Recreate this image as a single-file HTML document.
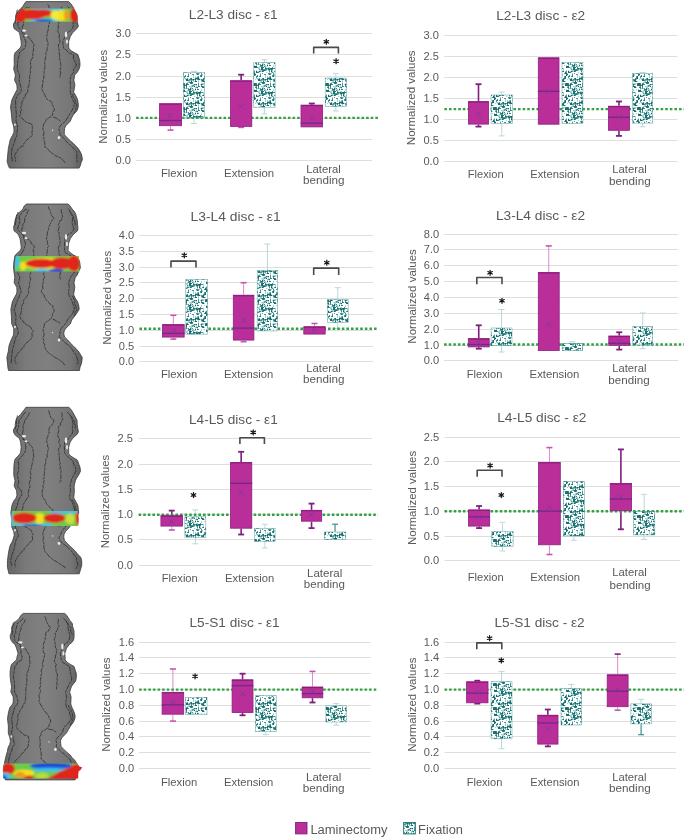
<!DOCTYPE html><html><head><meta charset="utf-8"><style>html,body{margin:0;padding:0;background:#fff;}svg{display:block;font-family:"Liberation Sans",sans-serif;filter:blur(0.45px);}</style></head><body>
<svg width="685" height="839" viewBox="0 0 685 839">
<defs>
<pattern id="fixp" width="24" height="24" patternUnits="userSpaceOnUse"><rect width="24" height="24" fill="#fff"/><path d="M13 0h1v1h-1zM16 0h1v1h-1zM17 0h1v1h-1zM13 1h1v1h-1zM14 1h1v1h-1zM5 2h1v1h-1zM14 2h1v1h-1zM15 2h1v1h-1zM9 3h1v1h-1zM14 3h1v1h-1zM9 4h1v1h-1zM13 4h1v1h-1zM17 4h1v1h-1zM20 4h1v1h-1zM6 5h1v1h-1zM13 5h1v1h-1zM3 6h1v1h-1zM4 6h1v1h-1zM5 6h1v1h-1zM6 6h1v1h-1zM12 6h1v1h-1zM13 6h1v1h-1zM23 6h1v1h-1zM1 7h1v1h-1zM3 7h1v1h-1zM6 7h1v1h-1zM7 7h1v1h-1zM11 7h1v1h-1zM18 7h1v1h-1zM19 7h1v1h-1zM23 7h1v1h-1zM10 8h1v1h-1zM11 8h1v1h-1zM18 8h1v1h-1zM19 8h1v1h-1zM3 9h1v1h-1zM4 9h1v1h-1zM11 9h1v1h-1zM12 9h1v1h-1zM23 9h1v1h-1zM0 10h1v1h-1zM22 10h1v1h-1zM23 10h1v1h-1zM14 11h1v1h-1zM15 11h1v1h-1zM23 11h1v1h-1zM2 12h1v1h-1zM4 12h1v1h-1zM9 12h1v1h-1zM13 12h1v1h-1zM14 12h1v1h-1zM15 12h1v1h-1zM16 12h1v1h-1zM18 12h1v1h-1zM19 12h1v1h-1zM13 13h1v1h-1zM14 13h1v1h-1zM15 13h1v1h-1zM16 13h1v1h-1zM18 13h1v1h-1zM2 14h1v1h-1zM6 14h1v1h-1zM9 14h1v1h-1zM10 14h1v1h-1zM18 14h1v1h-1zM5 15h1v1h-1zM10 15h1v1h-1zM11 15h1v1h-1zM16 15h1v1h-1zM22 16h1v1h-1zM3 17h1v1h-1zM5 17h1v1h-1zM21 17h1v1h-1zM22 17h1v1h-1zM14 18h1v1h-1zM15 18h1v1h-1zM16 18h1v1h-1zM14 19h1v1h-1zM15 19h1v1h-1zM16 19h1v1h-1zM21 19h1v1h-1zM22 19h1v1h-1zM23 19h1v1h-1zM1 20h1v1h-1zM2 20h1v1h-1zM4 20h1v1h-1zM6 20h1v1h-1zM7 20h1v1h-1zM8 20h1v1h-1zM21 20h1v1h-1zM22 20h1v1h-1zM4 21h1v1h-1zM5 21h1v1h-1zM7 21h1v1h-1zM21 21h1v1h-1zM22 21h1v1h-1zM0 22h1v1h-1zM7 22h1v1h-1zM23 22h1v1h-1zM7 23h1v1h-1zM11 23h1v1h-1zM16 23h1v1h-1zM19 23h1v1h-1zM22 23h1v1h-1z" fill="#1E6E6E"/><path d="M8 0h1v1h-1zM14 0h1v1h-1zM18 0h1v1h-1zM4 1h1v1h-1zM5 1h1v1h-1zM6 1h1v1h-1zM9 1h1v1h-1zM12 1h1v1h-1zM22 1h1v1h-1zM0 2h1v1h-1zM1 2h1v1h-1zM6 2h1v1h-1zM9 2h1v1h-1zM20 2h1v1h-1zM8 3h1v1h-1zM17 3h1v1h-1zM20 3h1v1h-1zM6 4h1v1h-1zM8 4h1v1h-1zM12 4h1v1h-1zM16 4h1v1h-1zM19 4h1v1h-1zM5 5h1v1h-1zM12 5h1v1h-1zM16 5h1v1h-1zM11 6h1v1h-1zM19 6h1v1h-1zM22 6h1v1h-1zM0 7h1v1h-1zM2 7h1v1h-1zM5 7h1v1h-1zM9 7h1v1h-1zM10 7h1v1h-1zM21 7h1v1h-1zM22 7h1v1h-1zM1 8h1v1h-1zM3 8h1v1h-1zM9 8h1v1h-1zM20 8h1v1h-1zM21 8h1v1h-1zM23 8h1v1h-1zM10 9h1v1h-1zM21 10h1v1h-1zM0 11h1v1h-1zM6 11h1v1h-1zM13 11h1v1h-1zM16 11h1v1h-1zM18 11h1v1h-1zM19 11h1v1h-1zM22 11h1v1h-1zM3 12h1v1h-1zM6 12h1v1h-1zM10 12h1v1h-1zM20 12h1v1h-1zM0 13h1v1h-1zM1 13h1v1h-1zM6 13h1v1h-1zM9 13h1v1h-1zM17 13h1v1h-1zM0 14h1v1h-1zM7 14h1v1h-1zM11 14h1v1h-1zM16 14h1v1h-1zM4 15h1v1h-1zM15 15h1v1h-1zM18 15h1v1h-1zM0 16h1v1h-1zM16 16h1v1h-1zM18 16h1v1h-1zM20 16h1v1h-1zM6 17h1v1h-1zM20 17h1v1h-1zM0 18h1v1h-1zM20 18h1v1h-1zM21 18h1v1h-1zM22 18h1v1h-1zM1 19h1v1h-1zM8 19h1v1h-1zM17 19h1v1h-1zM3 20h1v1h-1zM5 20h1v1h-1zM9 20h1v1h-1zM10 20h1v1h-1zM0 21h1v1h-1zM1 21h1v1h-1zM2 21h1v1h-1zM6 21h1v1h-1zM8 21h1v1h-1zM19 21h1v1h-1zM23 21h1v1h-1zM1 22h1v1h-1zM5 22h1v1h-1zM22 22h1v1h-1zM5 23h1v1h-1zM10 23h1v1h-1zM14 23h1v1h-1zM20 23h1v1h-1zM23 23h1v1h-1z" fill="#4A9797"/><path d="M2 0h1v1h-1zM5 0h1v1h-1zM7 0h1v1h-1zM9 0h1v1h-1zM19 0h1v1h-1zM7 1h1v1h-1zM15 1h1v1h-1zM20 1h1v1h-1zM4 2h1v1h-1zM10 2h1v1h-1zM1 3h1v1h-1zM10 3h1v1h-1zM15 3h1v1h-1zM1 4h1v1h-1zM3 4h1v1h-1zM5 4h1v1h-1zM1 5h1v1h-1zM3 5h1v1h-1zM4 5h1v1h-1zM7 6h1v1h-1zM16 6h1v1h-1zM17 6h1v1h-1zM18 6h1v1h-1zM4 7h1v1h-1zM8 7h1v1h-1zM12 7h1v1h-1zM15 7h1v1h-1zM17 7h1v1h-1zM20 7h1v1h-1zM0 8h1v1h-1zM6 8h1v1h-1zM22 8h1v1h-1zM1 9h1v1h-1zM2 9h1v1h-1zM6 9h1v1h-1zM9 9h1v1h-1zM13 9h1v1h-1zM20 9h1v1h-1zM21 9h1v1h-1zM6 10h1v1h-1zM19 10h1v1h-1zM20 10h1v1h-1zM9 11h1v1h-1zM10 11h1v1h-1zM11 11h1v1h-1zM12 11h1v1h-1zM1 12h1v1h-1zM8 12h1v1h-1zM11 12h1v1h-1zM17 12h1v1h-1zM2 13h1v1h-1zM4 13h1v1h-1zM23 13h1v1h-1zM1 14h1v1h-1zM4 14h1v1h-1zM15 14h1v1h-1zM21 14h1v1h-1zM22 14h1v1h-1zM23 14h1v1h-1zM3 15h1v1h-1zM12 15h1v1h-1zM22 15h1v1h-1zM23 15h1v1h-1zM3 16h1v1h-1zM5 16h1v1h-1zM17 16h1v1h-1zM19 16h1v1h-1zM23 16h1v1h-1zM0 17h1v1h-1zM1 17h1v1h-1zM9 17h1v1h-1zM12 17h1v1h-1zM14 17h1v1h-1zM16 17h1v1h-1zM23 17h1v1h-1zM1 18h1v1h-1zM2 18h1v1h-1zM3 18h1v1h-1zM9 18h1v1h-1zM19 18h1v1h-1zM4 19h1v1h-1zM5 19h1v1h-1zM18 19h1v1h-1zM19 19h1v1h-1zM11 20h1v1h-1zM18 20h1v1h-1zM19 20h1v1h-1zM3 21h1v1h-1zM11 21h1v1h-1zM20 21h1v1h-1zM2 22h1v1h-1zM4 22h1v1h-1zM8 22h1v1h-1zM11 22h1v1h-1zM14 22h1v1h-1zM16 22h1v1h-1zM19 22h1v1h-1zM20 22h1v1h-1zM21 22h1v1h-1zM8 23h1v1h-1zM13 23h1v1h-1zM17 23h1v1h-1zM18 23h1v1h-1zM21 23h1v1h-1z" fill="#A8D2D2"/></pattern>
<linearGradient id="sg" x1="0" x2="1" y1="0" y2="0"><stop offset="0" stop-color="#666"/><stop offset="0.25" stop-color="#7a7a7a"/><stop offset="0.55" stop-color="#808080"/><stop offset="0.85" stop-color="#767676"/><stop offset="1" stop-color="#5e5e5e"/></linearGradient>
<filter id="bl" x="-0.2" y="-0.5" width="1.4" height="2"><feGaussianBlur stdDeviation="1.0"/></filter>
<filter id="sb"><feGaussianBlur stdDeviation="0.35"/></filter>
</defs>
<rect width="685" height="839" fill="#fff"/>
<g>
<path d="M25.95 1.6 L24.45 3.6 L22.77 6.6 L20.71 8.6 L17.73 11.6 L15.93 14.5 L15.5 18.6 L15.03 21.6 L13.58 23.6 L13.46 26.2 L14.05 28.6 L16.93 30.6 L19.45 32.6 L20.24 36.4 L21.11 41.6 L21.27 45.6 L20.1 48.1 L17.18 50.6 L15.19 52.6 L14.35 54.6 L14.13 59.6 L14.26 64.6 L13.71 69.2 L15.46 75 L14.56 80.2 L16.9 85 L17.12 89.6 L15.66 92.2 L13.95 95.6 L12.02 99.6 L10.51 106.8 L11.4 114.2 L12.07 121.4 L13.57 125.9 L13.99 129.6 L13.84 132.6 L12.41 135.6 L10.24 139.6 L9.45 143.3 L8.34 148.6 L7.7 155 L7.13 161.6 L8.35 165.6 L9.47 168.1 L79.12 168.1 L80.51 165.2 L81.1 162.6 L82.44 159.6 L81.69 155 L80.21 151.6 L78.22 148.6 L75.53 145.6 L73.19 143.3 L70.11 140.6 L67.01 137.6 L64.33 134.6 L64.27 131.6 L64.55 128.6 L65.65 125.9 L70.12 121.4 L71.81 117.6 L73.72 114.2 L77.1 110.6 L78.35 106.8 L78.22 103.6 L77.61 99.6 L75.75 95.6 L73.66 92.2 L74.86 85 L73.88 80.2 L74.65 75 L77.08 72.6 L78.99 69.2 L80.01 65.6 L79.87 61.6 L79.21 58.6 L77.91 54.6 L74.35 52.6 L70.75 50.6 L68.75 48.1 L68.59 41.6 L70.31 36.4 L72.76 32.6 L74.98 30.6 L76.86 28.6 L78.35 26.2 L77.34 21.6 L77.23 18.6 L76.69 14.5 L75.29 11.6 L73.81 8.6 L72.77 6.6 L70.72 3.6 L68.71 1.6Z" fill="url(#sg)" stroke="#3a3a3a" stroke-width="0.8"/>
<path d="M29.2 7.01 L28.51 8.45 L27.4 10.5 L25.98 11.43 L25.93 12.71 L24.31 14.76 L25.12 16.18 L23.66 18.53 L23.51 20.06 L23.55 21.91 L23.48 24.1 L22.67 25.93 L22.31 27.71 L22.3 29.35 L22.57 31.88 L23.68 33.18 L25.43 34.42 L26.57 35.67 L27.43 36.57 L29.31 37.83 L30.47 39.51 L31.85 41.08 L32.68 42.62 L33.59 44.01 L34.04 45.78 L33.08 47.41 L33.62 48.85 L33.41 51.01 L32.48 52.37 L32.86 54.46 L32.97 56.58 L32.33 58.31 L31.05 60.01 L30.44 61.31 L30.74 63.06 L30.18 64.95 L31.4 66.26 L30.3 68.61 L30.62 69.91 L30.39 71.86 L30.28 73.24 L29.95 75.26 L29.29 76.71 L29.98 78.09 L29.34 80.08 L29.59 81.97 L29.16 83.54 L28.85 85.79 L28.19 86.87 L28.04 88.59 L27.8 90.55 L27.71 92.65 L25.78 93.86 L25.18 95.76 L25.31 97.18 L23.04 98.6 L22.94 100.4 L21.98 101.75 L21.85 104.16 L21.29 105.78 L20.71 107.88 L21.62 109.81 L20.48 111.49 L20.84 113.92 L19.36 115.71 L20.5 117.07 L21.69 118.19 L23.65 119.65 L24.71 121.13 L26.27 122.2 L28.71 123.01 L30.52 123.72 L32.17 124.54 L32.29 126.65 L32.36 128.72 L32.38 130.13 L31.89 132.49 L32.28 133.91 L32.15 135.39 L30.56 137.04 L28.93 138.05 L27.12 139.72 L26.07 140.46 L24.92 142.23 L24 143.44 L23.49 144.95 L22.74 146.26 L20.6 146.86 L19.04 148.31 L17.82 149.59 L17.39 151.15 L15.89 152.93 L14.96 154.56 L14.34 156.05 L15.55 158.48 L15.17 160.03 L15.8 161.7" fill="none" stroke="#262626" stroke-width="0.75" stroke-dasharray="5 0.8 3 0.8"/>
<path d="M47.53 4.2 L49.06 6.06 L49.11 7.93 L50.02 9.88 L51.37 11.64 L52.57 13.3 L52.5 14.92 L54.23 16.03 L52.86 17.7 L51.52 19.03 L50.54 20.4 L49.75 21.82 L49.45 23.19 L48.64 25.23 L48.53 26.98 L48.22 28.69 L48.16 30.32 L47.15 32.85 L47.42 34.71 L46.47 36.71 L46.98 38.2 L46.78 39.82 L48.01 42.09 L47.93 43.95 L48.04 45.15 L47.09 47.75 L47.1 48.78 L46.94 50.9 L45.85 53.11 L46 54.67 L45.62 56.62 L45.71 57.94 L44.98 60.17 L45.2 61.98 L44.38 63.21 L44.93 65.32 L44.87 66.57 L44.91 68.47 L43.93 69.83 L44.11 72 L44.09 73.25 L44 74.72 L43.69 76.85 L43.87 78.81 L42.78 80.31 L43.09 81.86 L42.83 83.69 L42.14 86.04 L42.44 87.23 L41.78 89.06 L42.7 90.83 L43.15 92.12 L44.56 94.39 L45.24 95.87 L45.88 97.32 L46.78 98.75 L48.16 100.25 L50.53 101.03 L51.96 102.74 L51.97 104.2 L52.93 105.57 L53.4 107.15 L54.49 109.27 L53.76 111 L52.56 112.57 L52.75 113.94 L52.12 115.77 L50.96 116.67 L48.79 117.75 L47.85 118.77 L45.85 119.67 L45.75 121.5 L44.6 122.88 L43.37 124.92 L43.09 126.7 L42.83 128.11 L43.22 130.4 L43.94 131.72 L43.96 134 L43.26 135.32 L43.28 136.7 L44.26 138.48 L43.61 140.42 L44.63 141.6 L44.87 143.69 L44.83 145.24 L44.76 146.84 L46.66 148.11 L47.56 148.96 L49.29 150.62 L49.81 151.8 L51.8 152.98 L53.77 154.16 L55.11 155.58 L57.06 156.19 L58.22 157.09 L60.83 158.04 L61.65 158.79 L62.87 160.09 L64.1 161.71 L65.7 163.1" fill="none" stroke="#262626" stroke-width="0.75" stroke-dasharray="5 0.8 3 0.8"/>
<path d="M61.36 6.88 L61.67 9.42 L62.34 11.17 L62.68 12.41 L62.74 14.26 L62.07 15.6 L61.18 17.64 L59.98 19.06 L58.78 20.38 L58.8 22.17 L58.83 23.55 L58.32 25.29 L58.25 26.95 L58.36 28.56 L57.78 30.39 L58.13 32.01 L59.28 33.84 L59.36 35.82 L59.11 37.59 L59.74 39.22 L59.92 40.97 L59.76 43.17 L58.55 44.32 L58.55 46.47 L58.72 47.94 L59.06 49.53 L59.56 51.08 L58.99 52.82 L59.44 54.24 L59.73 55.97 L59.4 57.87 L59.84 59.33 L60.11 60.72 L60.42 62.45 L60.81 64.49 L60.94 65.93 L60.82 67.71 L60.14 68.87 L60.13 70.67 L60.88 72.86 L60.44 73.93 L60.11 76.02 L60 77.6" fill="none" stroke="#262626" stroke-width="0.75" stroke-dasharray="5 0.8 3 0.8"/>
<path d="M53.26 117.26 L54.18 117.28 L56.17 118.07 L58.12 119.46 L59.42 120.34 L60.4 121" fill="none" stroke="#262626" stroke-width="0.75" stroke-dasharray="5 0.8 3 0.8"/>
<path d="M17.45 9.61 L16.72 11.43 L17.29 13.92 L16.2 15.95 L16.29 17.36 L16.41 18.56 L16.12 20.38 L15.09 22.01 L15.5 23.6" fill="none" stroke="#262626" stroke-width="0.75" stroke-dasharray="5 0.8 3 0.8"/>
<path d="M70.32 9.8 L71.29 11.15 L71.64 12.46 L73.17 13.88 L74.46 15.32 L73.74 17.39 L74.61 18.59 L74.81 20.79 L74.73 22.05 L75.5 23.6" fill="none" stroke="#262626" stroke-width="0.75" stroke-dasharray="5 0.8 3 0.8"/>
<path d="M72.31 93.88 L72.8 94.87 L72.91 96.43 L74.36 98.31 L74.84 99.81 L75.62 100.83 L74.9 102.45 L76.3 104.14 L76.86 105.91 L75.85 107.53 L76.18 109.14 L75.57 110.38 L74.75 111.84 L74 113.6" fill="none" stroke="#262626" stroke-width="0.75" stroke-dasharray="5 0.8 3 0.8"/>
<path d="M27.37 6.94 L24.56 9.04 L20.62 11.75 L20.03 14.48 L18.7 18.65 L19.45 21.86 L17.75 23.11 L17.98 25.94 L19.47 28.63 L21.03 30.14 L22.41 32.75 L23.55 36.32 L26.03 41.99 L25.68 45.41 L25.06 47.94 L21.72 50.63 L19.36 52.36 L19.45 54.64 L17.91 59.48 L17.57 64.28 L17.15 69.13 L19.59 75.46 L19.11 79.97 L20.28 85.02 L21.33 89.16 L20.92 91.9 L17.62 95.18 L15.6 99.43 L15.67 106.67 L16.39 114.19 L15.96 121.07 L17.67 125.86 L17.4 129.65 L16.78 133.09 L16.93 135.19 L15.27 139.44 L14.19 142.94 L12.05 148.18 L11.49 154.66 L12.43 162.09" fill="none" stroke="#262626" stroke-width="0.75" stroke-dasharray="5 0.8 3 0.8"/>
<path d="M68.36 6.89 L69 8.53 L70.45 11.37 L71.51 14.7 L73.11 18.19 L72.92 21.43 L73.22 26.53 L72.24 28.74 L70.57 30.62 L67.47 32.71 L65.06 36.05 L62.81 41.78 L63.48 48.07 L66.49 50.41 L69.07 53.02 L73.41 54.65 L73.54 59.09 L74.77 61.53 L76.49 65.21 L73.73 69.12 L73.39 72.9 L71.16 75.32 L70.01 79.82 L70.45 85.15 L70.19 91.8 L71.08 95.15 L72.61 99.63 L74.63 103.33 L73.74 106.47 L71.94 110.67 L69.74 114.1 L67.9 117.23 L65.54 121.02 L60.03 125.98 L58.87 129 L59.75 132.03 L60 134.82 L63.12 137.22 L65.38 140.42 L68.27 143.43 L70.41 145.18 L74.24 149.02 L76.79 151.55 L76.8 154.88 L77.04 160.04 L77.18 162.72" fill="none" stroke="#262626" stroke-width="0.75" stroke-dasharray="5 0.8 3 0.8"/>
<ellipse cx="24" cy="30.6" rx="2.2" ry="1.2" fill="#e8e8e8"/>
<ellipse cx="26" cy="35.6" rx="1.5" ry="1" fill="#e8e8e8"/>
<ellipse cx="66" cy="34.6" rx="1.2" ry="3" fill="#e8e8e8"/>
<ellipse cx="67" cy="41.6" rx="1" ry="2.2" fill="#e8e8e8"/>
<ellipse cx="59" cy="137.6" rx="1.3" ry="1.6" fill="#e8e8e8"/>
<ellipse cx="52.6" cy="130.2" rx="0.7" ry="0.7" fill="#e8e8e8"/>
<ellipse cx="15" cy="124.6" rx="0.9" ry="1.2" fill="#e8e8e8"/>
</g>
<clipPath id="disc0"><path d="M22 8.5 H73.6 Q76.5 12 77.6 16 L77.4 21.7 H15.8 L16.3 16 Q18.5 11 22 8.5Z"/></clipPath>
<g clip-path="url(#disc0)">
<g filter="url(#bl)">
<rect x="0" y="5.5" width="100" height="19.2" fill="#6CCB4B"/>
<rect x="33" y="7.5" width="30" height="3.2" fill="#3FC3E6"/>
<rect x="30" y="18.7" width="28" height="4" fill="#3FC3E6"/>
<ellipse cx="44" cy="21" rx="9" ry="1.8" fill="#1A4FD6"/>
<ellipse cx="61" cy="15.5" rx="7" ry="5.5" fill="#F2E21E"/>
<ellipse cx="66.5" cy="15.5" rx="2.5" ry="5" fill="#F39A1F"/>
<ellipse cx="20" cy="15" rx="6.5" ry="9" fill="#E0251B"/>
<ellipse cx="32" cy="14.3" rx="14" ry="5.2" fill="#E0251B"/>
<ellipse cx="43" cy="13" rx="10" ry="3.8" fill="#E0251B"/>
<ellipse cx="55" cy="15" rx="4.5" ry="4.5" fill="#F6E83A"/>
<ellipse cx="75" cy="15" rx="5" ry="9" fill="#E0251B"/>
</g>
</g>
<g>
<path d="M26.38 204 L24.19 206 L22.97 209 L20.92 211 L17.47 214 L16.16 216.9 L14.91 221 L14.72 224 L13.79 226 L13.69 228.6 L14.21 231 L16.97 233 L18.57 235 L20.09 238.8 L20.89 244 L21.27 248 L20.27 250.5 L17.47 253 L15.33 255 L14.64 257 L13.9 262 L13.51 267 L13.93 271.6 L14.8 277.4 L14.11 282.6 L16.82 287.4 L16.98 292 L16.16 294.6 L14.18 298 L12.29 302 L10.88 309.2 L11.42 316.6 L11.7 323.8 L13.67 328.3 L13.81 332 L13.46 335 L12.04 338 L10.35 342 L9.02 345.7 L8.4 351 L6.81 357.4 L7.56 364 L7.95 368 L8.53 370.5 L79.48 370.5 L79.91 367.6 L80.9 365 L81.75 362 L82.24 357.4 L80.09 354 L78.32 351 L75.28 348 L73.06 345.7 L70.35 343 L67.69 340 L64.55 337 L63.77 334 L64.14 331 L65.88 328.3 L70.46 323.8 L71.64 320 L74.39 316.6 L76.95 313 L79.19 309.2 L78.84 306 L77.69 302 L75.18 298 L73.64 294.6 L74.79 287.4 L74.01 282.6 L75.27 277.4 L77.21 275 L78.62 271.6 L80.34 268 L79.98 264 L79.45 261 L77.35 257 L73.53 255 L70.58 253 L68.11 250.5 L68.38 244 L70.19 238.8 L72.87 235 L74.81 233 L77.38 231 L78 228.6 L77.48 224 L77.35 221 L76.46 216.9 L75.73 214 L73.98 211 L72.15 209 L70.07 206 L68.28 204Z" fill="url(#sg)" stroke="#3a3a3a" stroke-width="0.8"/>
<path d="M28.84 209.6 L27.85 211.32 L27.06 212.56 L27.16 213.9 L26.34 215.63 L24.87 217 L24.57 218.61 L24.8 220.47 L24.43 222.66 L22.74 224.01 L22.87 226.39 L21.95 228.16 L21.71 230.23 L23 232.18 L22.47 234.14 L23.31 236.17 L24.81 237.33 L26.98 238.36 L28.21 239.46 L29.33 240.04 L30.98 241.72 L30.72 243.15 L32.38 244.41 L34.24 245.79 L34.17 247.96 L33.15 249.64 L33.53 251.27 L33.97 253.52 L33.84 255.43 L33.13 257.33 L32.9 258.82 L31.92 260.49 L31.87 262.57 L31.46 264.27 L30.25 265.6 L30.26 267.4 L30.86 269.05 L31.17 270.45 L30.9 272.4 L30.1 274.38 L29.69 275.69 L30.19 277.52 L30.63 279.2 L30.32 280.72 L29.57 282.32 L29.58 284.29 L29.57 285.79 L28.9 288.22 L28.05 289.73 L28.77 291.53 L28.38 293.1 L28.02 294.51 L26.75 296.39 L25.86 297.82 L23.94 299.64 L23.39 301.23 L23.72 302.99 L22.23 304.82 L21.54 306.16 L21.62 308.4 L21.61 310.29 L21.05 312.42 L20.75 314.29 L19.66 315.85 L20.21 317.87 L20.9 319.07 L22.72 320.61 L23.04 321.89 L25.6 323.6 L25.93 324.74 L27.65 325.34 L29.92 326.55 L31 327.56 L31.88 329.49 L33.5 331.37 L31.85 333.06 L32.11 334.73 L32.25 335.86 L31.59 337.91 L30.8 339.22 L29.06 340.67 L27.12 342.06 L26.41 343.21 L24.82 344.42 L24.17 345.46 L23.92 347.28 L22.24 347.96 L21.68 349.32 L19.71 351 L18.9 352.4 L17.25 353.61 L16.9 355.59 L15.17 357.3 L15.13 358.79 L14.35 360.22 L16.02 362.1 L15.8 364.1" fill="none" stroke="#262626" stroke-width="0.75" stroke-dasharray="5 0.8 3 0.8"/>
<path d="M48.63 206.45 L48.54 208.25 L50.09 210.02 L50.34 212.42 L51.14 213.61 L51.39 215.73 L52.75 216.6 L54.04 218.63 L52.62 219.56 L51.36 221.28 L51.09 222.42 L49.97 224.35 L49.4 225.87 L48.38 227.72 L48.64 229.62 L47.87 230.97 L47.53 232.99 L47.08 234.96 L47.11 236.73 L46.27 239.14 L47.05 240.31 L47.56 242.66 L47.81 244.59 L48.67 246.24 L47.16 247.85 L47.46 249.49 L47.07 251.71 L47.05 253.61 L46.76 255.01 L46.29 256.93 L46.21 258.4 L45.11 260.64 L45.6 262.02 L45.38 264.22 L45.04 265.64 L44.05 267.12 L44.87 269.35 L43.86 270.3 L43.96 272.69 L43.6 274.35 L44.28 275.99 L44.45 277.58 L43.22 279.11 L43.38 281.01 L43.19 282.79 L42.46 284.22 L42.45 286.02 L42.91 288.42 L41.71 289.94 L41.31 291.6 L42.39 293.49 L44.24 295.14 L44.33 296.33 L45.16 298.06 L46.04 299.68 L47.26 301.04 L49.15 302.66 L49.63 303.83 L50.96 304.58 L53.09 306.05 L52.73 308.21 L53.96 309.68 L54.2 311.42 L52.73 313.19 L52.44 314.57 L52.27 316.57 L51.51 317.88 L50.52 318.89 L49.03 320.19 L47.2 321.34 L46.65 321.63 L44.52 323.45 L44.25 325.37 L43.72 327.69 L43.33 328.87 L43.01 331.13 L43.84 332.85 L44.1 334.26 L43.75 335.92 L42.9 337.95 L43.45 339.43 L43.95 340.79 L43.42 342.8 L44.68 344.41 L44.3 345.67 L44.95 347.3 L45.34 349.02 L46.29 350.53 L46.96 351.27 L48.78 353.03 L50.59 354.3 L51.31 355.05 L53.11 356.18 L54.75 357.32 L57.29 358.59 L59.16 359.65 L60.51 360.87 L61.87 361.28 L62.97 362.79 L63.93 364.21 L65.7 365.5" fill="none" stroke="#262626" stroke-width="0.75" stroke-dasharray="5 0.8 3 0.8"/>
<path d="M61.68 209.46 L61.01 211.11 L61.86 213.01 L62.38 215.45 L62.43 216.78 L62.06 218.09 L61.56 220.21 L59.48 221.19 L59.71 222.36 L58.48 224.45 L59.03 225.71 L59 227.8 L58.73 229.26 L57.77 231.22 L59.08 232.8 L59.38 235.13 L58.96 236.44 L59.92 237.84 L59.71 239.7 L60.24 241.69 L59.76 243.37 L59.82 245.48 L58.34 247.03 L58.3 249.09 L58.98 250.73 L58.9 252.4 L58.58 253.5 L59.78 255.37 L59.18 257.11 L59.96 258.03 L60.61 260.19 L60.49 261.33 L59.66 263 L60.86 264.63 L60.37 266.53 L60.71 268.16 L60.44 270.01 L60.23 271.59 L60.37 273 L59.93 275.19 L59.74 276.67 L60.33 278.66 L60 280" fill="none" stroke="#262626" stroke-width="0.75" stroke-dasharray="5 0.8 3 0.8"/>
<path d="M52.75 319.63 L54.82 319.64 L55.37 320.75 L57.15 321.45 L58.68 322.16 L60.4 323.4" fill="none" stroke="#262626" stroke-width="0.75" stroke-dasharray="5 0.8 3 0.8"/>
<path d="M17.85 211.98 L17.79 213.78 L16.11 216.08 L16.51 217.93 L15.61 219.9 L16.27 220.83 L15.16 222.87 L15.46 224.39 L15.5 226" fill="none" stroke="#262626" stroke-width="0.75" stroke-dasharray="5 0.8 3 0.8"/>
<path d="M69.88 211.69 L71.37 213.81 L72.15 214.84 L73.28 216.33 L73.45 218.08 L74.41 219.91 L74.48 220.9 L75 222.44 L74.88 224.78 L75.5 226" fill="none" stroke="#262626" stroke-width="0.75" stroke-dasharray="5 0.8 3 0.8"/>
<path d="M71.82 295.89 L73.4 297.17 L73.87 299.18 L74.83 300.2 L74.93 301.9 L74.62 303.33 L75.1 304.86 L76.18 306.97 L76.04 308.66 L76.97 310.27 L75.46 311.39 L74.76 312.63 L75.31 314.55 L74 316" fill="none" stroke="#262626" stroke-width="0.75" stroke-dasharray="5 0.8 3 0.8"/>
<path d="M26.83 209.05 L24.05 210.52 L21.09 213.92 L19.12 216.66 L19.99 220.57 L19.2 223.92 L18.42 226.1 L17.31 229.1 L19.06 230.93 L21.2 233.28 L23.97 234.93 L23.8 238.8 L25.61 243.94 L24.2 248 L23.5 250.05 L21.87 252.75 L20.32 255.4 L19.01 256.62 L17.46 262 L17.93 266.96 L17 271.27 L19.85 277.31 L18.52 283.02 L19.96 287.31 L21.11 291.75 L19.84 294.86 L18.4 298.24 L16.99 301.51 L14.15 309.29 L15.97 316.15 L15.62 323.86 L17.2 327.82 L18.39 332.08 L17.63 334.68 L15.63 337.53 L14.57 341.71 L13.49 346.1 L12.14 350.77 L11.68 357.65 L11.03 364.04" fill="none" stroke="#262626" stroke-width="0.75" stroke-dasharray="5 0.8 3 0.8"/>
<path d="M68.52 208.66 L69.72 210.8 L70.82 214.07 L73.06 216.64 L72.25 221.5 L72.17 223.74 L73.87 228.58 L73.08 230.68 L71.11 232.79 L67.31 235.06 L65.01 238.68 L64.45 244.34 L64.46 250.56 L65.53 252.85 L70.04 255.27 L72.01 256.94 L74.88 261.09 L74.99 263.8 L75.47 267.53 L75.32 271.15 L71.88 275.45 L70.65 277.03 L68.68 282.55 L69.21 286.91 L68.6 294.16 L70.52 298.1 L72.27 301.99 L73.8 305.97 L74.28 308.98 L72.75 313.44 L69.73 317.04 L67.51 320.04 L65.26 323.73 L60.94 328.79 L59.77 331.16 L60.23 333.59 L59.06 336.91 L62.41 339.94 L65.44 343.05 L68.86 345.42 L71.49 348.47 L73.06 351.03 L75.71 354.42 L76.76 356.92 L78.31 362.24 L76.65 364.54" fill="none" stroke="#262626" stroke-width="0.75" stroke-dasharray="5 0.8 3 0.8"/>
<ellipse cx="24" cy="233" rx="2.2" ry="1.2" fill="#e8e8e8"/>
<ellipse cx="26" cy="238" rx="1.5" ry="1" fill="#e8e8e8"/>
<ellipse cx="66" cy="237" rx="1.2" ry="3" fill="#e8e8e8"/>
<ellipse cx="67" cy="244" rx="1" ry="2.2" fill="#e8e8e8"/>
<ellipse cx="59" cy="340" rx="1.3" ry="1.6" fill="#e8e8e8"/>
<ellipse cx="52.6" cy="332.6" rx="0.7" ry="0.7" fill="#e8e8e8"/>
<ellipse cx="15" cy="327" rx="0.9" ry="1.2" fill="#e8e8e8"/>
</g>
<clipPath id="disc1"><path d="M16 256 H78.6 Q80.2 263.5 79.2 271.4 H15.2 Q14.2 263.5 16 256Z"/></clipPath>
<g clip-path="url(#disc1)">
<g filter="url(#bl)">
<rect x="0" y="253" width="100" height="21.6" fill="#6CCB4B"/>
<rect x="10" y="255" width="80" height="3" fill="#6CCB4B"/>
<ellipse cx="15.5" cy="261" rx="3.5" ry="8" fill="#3FC3E6"/>
<ellipse cx="23" cy="266" rx="3" ry="4.5" fill="#F2E21E"/>
<ellipse cx="46" cy="263.8" rx="22" ry="6.2" fill="#F2E21E"/>
<ellipse cx="41" cy="263.4" rx="15.5" ry="4.6" fill="#E0251B"/>
<ellipse cx="62" cy="263.3" rx="12" ry="6" fill="#E0251B"/>
<ellipse cx="74" cy="263.5" rx="6.5" ry="8.2" fill="#E0251B"/>
<ellipse cx="42" cy="271" rx="8" ry="2.4" fill="#3FC3E6"/>
<ellipse cx="56" cy="271" rx="7.5" ry="2.6" fill="#1A4FD6"/>
</g>
</g>
<g>
<path d="M25.95 407.3 L24.62 409.3 L22.17 412.3 L20.71 414.3 L17.61 417.3 L15.88 420.2 L15.32 424.3 L15.07 427.3 L13.54 429.3 L13.53 431.9 L14.62 434.3 L16.52 436.3 L19.38 438.3 L20.64 442.1 L21.18 447.3 L20.73 451.3 L20.03 453.8 L17.81 456.3 L15.69 458.3 L14.61 460.3 L13.94 465.3 L13.8 470.3 L13.72 474.9 L15.03 480.7 L14.15 485.9 L16.62 490.7 L16.93 495.3 L16.17 497.9 L13.55 501.3 L11.99 505.3 L10.83 512.5 L11.69 519.9 L11.81 527.1 L13.75 531.6 L14.23 535.3 L13.4 538.3 L12.41 541.3 L10.17 545.3 L9.21 549 L8.29 554.3 L7.43 560.7 L7.43 567.3 L8.36 571.3 L8.94 573.8 L79.24 573.8 L80.1 570.9 L80.89 568.3 L81.74 565.3 L81.71 560.7 L80.73 557.3 L77.82 554.3 L75.42 551.3 L73.15 549 L70.12 546.3 L67.15 543.3 L64.39 540.3 L63.78 537.3 L64.03 534.3 L65.48 531.6 L69.64 527.1 L71.91 523.3 L73.72 519.9 L77.16 516.3 L78.75 512.5 L78.31 509.3 L77.84 505.3 L75.68 501.3 L73.75 497.9 L74.38 490.7 L74.08 485.9 L75.36 480.7 L76.57 478.3 L78.67 474.9 L80.44 471.3 L80.04 467.3 L78.9 464.3 L77.53 460.3 L74.47 458.3 L71.03 456.3 L68.72 453.8 L68.61 447.3 L70.1 442.1 L72.74 438.3 L74.89 436.3 L77.18 434.3 L78.37 431.9 L77.63 427.3 L77.15 424.3 L77.05 420.2 L75.47 417.3 L73.94 414.3 L72.83 412.3 L70.89 409.3 L68.77 407.3Z" fill="url(#sg)" stroke="#3a3a3a" stroke-width="0.8"/>
<path d="M29.87 412.54 L28.64 414.35 L28.06 415.75 L27.15 417.01 L26.37 418.67 L24.36 420.08 L24.63 421.65 L23.94 423.46 L23.15 425.41 L23.02 427.32 L23.29 429.37 L22.9 431.69 L22.45 433.66 L22.51 435.4 L23.43 437.27 L22.9 439.22 L24.89 440.04 L25.73 441.15 L28.03 442.75 L29.42 443.54 L29.64 444.65 L31.62 446.52 L32.44 447.69 L33.07 449.14 L33.08 451.3 L33.33 453.09 L33.5 454.91 L33.94 456.92 L32.68 458.83 L33.23 460.49 L32.23 462.36 L32.3 463.56 L31.7 465.81 L31.35 467.62 L30.96 469.1 L30.24 470.76 L30.25 472.48 L31.23 473.86 L29.98 475.27 L30.52 477.02 L30.65 479.11 L30.14 480.88 L29.47 482.43 L29.14 484.22 L30.01 485.62 L29.65 488.05 L28.92 489.17 L28.6 491.42 L28.15 493.12 L28.18 494.85 L28.84 496.68 L26.95 498.02 L26.2 499.86 L25.25 500.88 L24.49 502.39 L23.31 504.46 L22.79 505.81 L22.98 507.64 L22.11 509.75 L21.6 511.69 L21.46 513.82 L21.45 515.34 L21.22 517.51 L20.94 519.14 L19.63 521.77 L20.42 522.91 L22.91 524.14 L23.05 525.6 L24.67 526.71 L27.07 527.53 L27.89 528.34 L29.65 529.31 L31.77 530.86 L31.58 532.62 L33.31 534.82 L32.22 536.25 L32.46 537.87 L32.55 539.8 L32.15 540.8 L29.53 542.5 L29.01 543.56 L27.24 545.3 L26.71 546.01 L24.77 547.88 L24.19 548.72 L23.93 550.16 L21.71 551.53 L20.87 553.04 L20.07 553.92 L18.36 555.9 L17.08 557.21 L16.79 558.88 L15.58 560.05 L15.18 561.94 L14.66 563.87 L15.42 565.85 L15.8 567.4" fill="none" stroke="#262626" stroke-width="0.75" stroke-dasharray="5 0.8 3 0.8"/>
<path d="M48.26 410.34 L49.33 411.94 L49.33 413.76 L50.38 415.68 L50.78 417.53 L52.36 418.51 L53.65 420.22 L53.92 421.57 L52.74 423.39 L52.39 424.58 L50.74 426.03 L49.07 427.81 L49.21 428.88 L48.67 430.86 L49.16 432.52 L48 434.86 L47.93 436.64 L47.01 437.9 L46.79 440.08 L46.75 441.96 L47.72 444.28 L47.55 446.14 L48.33 447.96 L48.32 449.09 L47.92 450.86 L47.32 453.45 L46.93 455.02 L47.33 456.87 L46.25 458.48 L45.61 460.46 L46.06 461.86 L45.47 464.05 L44.65 465.31 L45.18 467.53 L44.89 469.07 L43.98 470.69 L44.58 471.96 L44.37 473.77 L43.95 475.87 L44.47 476.91 L43.3 479.13 L44.35 480.85 L43.42 482.66 L44.1 483.83 L42.75 485.85 L43.42 487.76 L42.81 489.31 L42.09 491.05 L42.23 493.07 L42.11 495.07 L42.63 496.84 L43.54 498.14 L44.59 499.86 L46.21 501.43 L45.72 502.97 L47.33 504.41 L47.97 505.24 L49.27 506.64 L50.73 508.44 L52.97 509.53 L52.64 511.28 L52.93 512.86 L53.82 515.12 L53.72 516.14 L53.32 518.48 L52.94 519.49 L52.02 521.76 L50.08 522.43 L49.13 523.72 L47.93 524.3 L46.13 525.06 L45.58 526.86 L44.5 528.55 L43.72 530.85 L42.85 532.28 L42.92 534.12 L43.03 536.2 L43.87 537.25 L43.04 539.16 L42.89 541.14 L43.94 542.69 L43.87 544.04 L44.03 546.18 L43.72 547.28 L44.57 549.1 L44.34 550.9 L45.68 552.29 L46.93 553.9 L47.85 554.64 L48.83 556.4 L50.49 557.28 L51.38 558.31 L53.32 559.94 L55.08 560.91 L56.43 561.83 L58.02 562.49 L59.74 563.86 L62.01 565 L62.95 566.27 L65 567.1 L65.7 568.8" fill="none" stroke="#262626" stroke-width="0.75" stroke-dasharray="5 0.8 3 0.8"/>
<path d="M61.37 412.68 L62.32 414.44 L61.81 416.44 L62.78 418.52 L62.17 420.18 L61.71 421.38 L60.38 423.1 L60.6 424.98 L58.89 425.87 L58.59 427.57 L58.22 428.98 L58.86 430.92 L58.11 432.79 L57.83 434.53 L57.86 436.16 L58.89 438.22 L59.67 439.93 L58.73 441.62 L59.28 443.04 L60.12 444.87 L60.14 446.78 L58.83 448.23 L58.37 450.62 L59.3 452.01 L58.98 453.98 L58.98 455.51 L59.27 456.63 L59.4 458.52 L59.32 459.89 L59.93 461.94 L60.23 462.95 L59.54 465.09 L60.55 466.3 L59.86 468.6 L61.35 470.27 L60.99 471.29 L60.74 473.13 L60.75 475.3 L61.27 476.37 L60.56 478.6 L61.03 479.99 L59.74 481.79 L60 483.3" fill="none" stroke="#262626" stroke-width="0.75" stroke-dasharray="5 0.8 3 0.8"/>
<path d="M52.03 522.9 L54.8 523.55 L56.35 523.55 L57.5 524.55 L58.29 525.98 L60.4 526.7" fill="none" stroke="#262626" stroke-width="0.75" stroke-dasharray="5 0.8 3 0.8"/>
<path d="M17.39 415.38 L17.07 417.39 L16.45 419.41 L16.61 421 L16.17 422.9 L16.39 424.35 L16.33 426.18 L14.94 427.43 L15.5 429.3" fill="none" stroke="#262626" stroke-width="0.75" stroke-dasharray="5 0.8 3 0.8"/>
<path d="M70.03 415.38 L71.58 416.8 L72.5 418.36 L72.88 420.11 L74.17 421.07 L74.17 422.6 L75.07 424.85 L75.58 426.11 L74.85 427.84 L75.5 429.3" fill="none" stroke="#262626" stroke-width="0.75" stroke-dasharray="5 0.8 3 0.8"/>
<path d="M72.16 499.68 L72.57 501.09 L73.44 502.35 L74.58 503.8 L74.34 505.05 L75.55 507.04 L75.41 508.4 L76.33 509.92 L75.72 511.45 L76.61 513.27 L75.79 515.19 L74.59 516.5 L74.35 517.68 L74 519.3" fill="none" stroke="#262626" stroke-width="0.75" stroke-dasharray="5 0.8 3 0.8"/>
<path d="M25.97 412.09 L23.57 413.9 L21.37 417.76 L19.12 420.35 L18.75 424.2 L18.45 427.4 L17.6 429.1 L16.79 431.87 L19.02 434.04 L20.63 436.04 L22.9 438.06 L24.97 441.71 L25.86 446.84 L25.34 451.08 L24.2 453.5 L21.26 456.43 L19.76 458.46 L17.94 460.31 L18.72 465.27 L18.48 470.6 L17.19 474.93 L18.76 480.91 L17.59 486.11 L21.42 491.06 L21.75 494.94 L19.81 497.73 L18.21 500.91 L17.37 505.21 L14.57 512.65 L15.75 520.21 L15.41 527.22 L17.38 531.5 L18.52 535.72 L16.56 538.75 L15.54 541.29 L14.72 545.39 L14.2 548.75 L12.17 554.45 L10.6 560.6 L11.84 566.84" fill="none" stroke="#262626" stroke-width="0.75" stroke-dasharray="5 0.8 3 0.8"/>
<path d="M67.18 412.14 L69.43 414.24 L71.3 417.31 L72.4 420.61 L73.24 423.95 L72.29 427.25 L72.84 431.81 L71.7 434.26 L70.01 436.21 L68.66 438.73 L64.69 442.19 L64.31 447.05 L64.9 453.66 L67.45 456.17 L69.68 458.48 L72.78 460.65 L73.76 464.55 L75.67 467.72 L75.68 471.61 L73.85 475.18 L71.71 478.73 L71.4 480.23 L70.04 486.05 L70.5 491.19 L69.5 498.09 L71.56 501.34 L73.46 505.74 L74.71 509.69 L74.53 512.06 L71.73 516.61 L69.95 520.27 L67.04 523.41 L64.83 527.59 L61.62 531.91 L60.64 534.72 L58.9 537.47 L59.81 540.39 L62.25 543.24 L66.95 546.44 L69.44 549.28 L71.45 550.89 L73.55 554.46 L76.59 557.2 L76.45 560.51 L78.03 565.08 L75.76 568.72" fill="none" stroke="#262626" stroke-width="0.75" stroke-dasharray="5 0.8 3 0.8"/>
<ellipse cx="24" cy="436.3" rx="2.2" ry="1.2" fill="#e8e8e8"/>
<ellipse cx="26" cy="441.3" rx="1.5" ry="1" fill="#e8e8e8"/>
<ellipse cx="66" cy="440.3" rx="1.2" ry="3" fill="#e8e8e8"/>
<ellipse cx="67" cy="447.3" rx="1" ry="2.2" fill="#e8e8e8"/>
<ellipse cx="59" cy="543.3" rx="1.3" ry="1.6" fill="#e8e8e8"/>
<ellipse cx="52.6" cy="535.9" rx="0.7" ry="0.7" fill="#e8e8e8"/>
<ellipse cx="15" cy="530.3" rx="0.9" ry="1.2" fill="#e8e8e8"/>
</g>
<clipPath id="disc2"><path d="M12 511 H77.8 Q79.4 518.5 78.2 526 H11.6 Q10.4 518.5 12 511Z"/></clipPath>
<g clip-path="url(#disc2)">
<g filter="url(#bl)">
<rect x="0" y="508" width="100" height="21.2" fill="#6CCB4B"/>
<rect x="50" y="510" width="28" height="3.6" fill="#3FC3E6"/>
<rect x="10" y="510" width="40" height="2.5" fill="#6CCB4B"/>
<ellipse cx="39.5" cy="518.5" rx="5" ry="5.5" fill="#F2E21E"/>
<ellipse cx="70" cy="519" rx="5" ry="5.5" fill="#C6E03C"/>
<ellipse cx="24" cy="518" rx="12.5" ry="5.6" fill="#E0251B"/>
<ellipse cx="54.5" cy="518.2" rx="11" ry="4.8" fill="#E0251B"/>
<ellipse cx="79" cy="518" rx="3.5" ry="7.5" fill="#E0251B"/>
<rect x="12" y="524" width="40" height="4" fill="#3FC3E6"/>
<ellipse cx="33" cy="526" rx="10" ry="1.6" fill="#1A4FD6"/>
<ellipse cx="11" cy="518" rx="1.8" ry="8" fill="#3FC3E6"/>
<ellipse cx="62" cy="525" rx="10" ry="2" fill="#6CCB4B"/>
</g>
</g>
<g>
<path d="M23.18 613.4 L20.86 615.4 L19.12 618.4 L17.13 620.4 L13.61 623.4 L11.98 626.3 L11.7 630.4 L11.02 633.4 L10.28 635.4 L10.29 638 L11.27 640.4 L12.52 642.4 L14.98 644.4 L16.52 648.2 L18.03 653.4 L16.92 657.4 L16.53 659.9 L13.51 662.4 L11.53 664.4 L10.92 666.4 L10.08 671.4 L10.11 676.4 L10.63 681 L11.62 686.8 L10.82 692 L13.19 696.8 L13.27 701.4 L12.73 704 L9.95 707.4 L8.67 711.4 L7.48 718.6 L8.35 726 L8.32 733.2 L9.87 737.7 L10.45 741.4 L9.68 744.4 L8.12 747.4 L7.39 751.4 L6.29 755.1 L4.99 760.4 L3.73 766.8 L4.11 773.4 L4.5 777.4 L5.38 779.9 L74.93 779.9 L77.02 777 L77.46 774.4 L78.08 771.4 L78.62 766.8 L76.71 763.4 L74.88 760.4 L71.94 757.4 L70.25 755.1 L67.08 752.4 L63.73 749.4 L61.08 746.4 L60.65 743.4 L60.53 740.4 L61.88 737.7 L66.28 733.2 L68.55 729.4 L70.48 726 L73.29 722.4 L74.93 718.6 L75.12 715.4 L73.87 711.4 L71.94 707.4 L70.77 704 L71.05 696.8 L69.64 692 L71.34 686.8 L72.96 684.4 L75.65 681 L76.34 677.4 L76.32 673.4 L75.29 670.4 L74 666.4 L70.45 664.4 L67.19 662.4 L65.21 659.9 L64.87 653.4 L66.46 648.2 L69.39 644.4 L71.9 642.4 L73.39 640.4 L73.99 638 L74.1 633.4 L73.91 630.4 L72.6 626.3 L72.32 623.4 L69.8 620.4 L68.65 618.4 L66.82 615.4 L64.65 613.4Z" fill="url(#sg)" stroke="#3a3a3a" stroke-width="0.8"/>
<path d="M25.76 619.31 L24.66 620.63 L24.45 621.94 L23.29 623.56 L22.58 624.47 L20.74 626.7 L21.2 627.93 L20.84 629.69 L19.95 631.73 L19.42 633.31 L19.31 635.65 L18.55 637.59 L18.97 639.04 L18.49 641.04 L19.55 643.26 L19.72 645.1 L21.64 646.61 L22.63 647.76 L23.77 648.48 L26.24 649.48 L26.2 650.78 L28.04 652.86 L28.27 654.03 L29.85 655.36 L29.63 657.23 L29.5 659.49 L29.58 661 L30.2 662.93 L29.53 664.59 L29.74 666.07 L28.28 667.94 L28.6 669.81 L27.68 671.3 L26.88 673.52 L26.94 675.04 L26.87 676.58 L26.72 678.73 L27.24 680.06 L26.6 682 L26.99 683.11 L26.27 685.48 L26.29 686.77 L25.79 688.86 L25.82 690.33 L26.31 692.03 L25.61 693.56 L25.84 695.31 L25.51 697.62 L25.73 699.14 L25.05 700.48 L25.14 702.83 L23.56 703.73 L22.91 705.61 L22.43 707.44 L20.92 708.85 L20.07 710.53 L19.63 712.29 L18.37 714.18 L17.47 715.51 L18 717.3 L17.89 719.51 L17.35 721.29 L17.23 723.66 L16.12 725.82 L16.78 727.52 L17.5 729.08 L18.96 730.28 L20.04 731.49 L21.21 732.48 L23.41 733.91 L23.96 734.97 L26.95 735.65 L28.49 736.47 L28.79 738.94 L29.17 740.53 L28.44 742.36 L28.33 743.93 L28.41 745.36 L27.77 746.83 L26.83 748.71 L25.01 749.62 L24.19 751.14 L23.14 752.7 L21.63 753.74 L20.81 755.18 L19.67 756.44 L18.52 757.85 L17.38 758.73 L16.28 760.21 L14.57 761.74 L14.02 762.92 L12.5 764.84 L12.26 766.71 L11.58 767.85 L11.38 769.86 L11.58 771.58 L12.2 773.5" fill="none" stroke="#262626" stroke-width="0.75" stroke-dasharray="5 0.8 3 0.8"/>
<path d="M44.73 616.31 L45.54 617.58 L46 620.01 L46.62 621.4 L47.3 623.49 L48.19 624.61 L48.75 626.04 L50.65 627.45 L49.06 629.07 L48.64 630.96 L46.46 631.86 L45.66 633.32 L45.69 635.71 L45.3 637.26 L45.17 639.22 L44.73 640.77 L44.07 642.3 L43.45 644.34 L43.79 646.02 L43.07 648.35 L43.23 650.37 L43.26 651.74 L44.9 654.05 L44.59 655.24 L43.99 657.25 L43.65 659.1 L43.28 661.28 L42.45 663.08 L42.64 664.95 L43.09 666.66 L42.29 668.38 L41.46 669.73 L41.17 671.27 L41.99 673.3 L40.84 675.38 L41.5 676.82 L40.62 678.09 L40.21 680.16 L41.15 681.85 L40.06 683.13 L40.75 685.33 L40.15 686.91 L39.41 688.27 L40.58 689.9 L40.23 691.73 L39.85 693.56 L38.68 695.82 L39.57 697.53 L39.25 699.5 L38.9 701.25 L39.82 702.87 L40.04 704.19 L41.52 705.45 L41.9 707.02 L43.29 708.9 L44.16 710.31 L44.94 711.76 L46.5 712.84 L47.05 714.38 L48.45 715.7 L48.93 717.52 L49.92 718.9 L50.73 720.88 L50.41 722.4 L49.3 724.11 L49.09 725.72 L48.4 727.48 L46.41 728.84 L45.1 729.77 L44.01 730.37 L42.23 731.2 L41.01 733.01 L41.28 734.66 L39.79 736.68 L39.56 738.07 L40.14 740.21 L39.94 741.91 L40.37 743.72 L40.06 745.23 L39.67 747.29 L40.62 749.01 L40.71 750.38 L40.85 752.24 L41.12 753.32 L41.3 755.57 L41.57 756.93 L40.72 758.28 L42.02 759.81 L44.06 761.24 L44.58 762.17 L47.07 763.69 L47.6 764.52 L50.56 765.67 L51.67 766.7 L53.82 768.31 L54.79 768.63 L56.35 770.04 L58.78 770.9 L59.37 771.96 L60.57 773.43 L62.1 774.9" fill="none" stroke="#262626" stroke-width="0.75" stroke-dasharray="5 0.8 3 0.8"/>
<path d="M58.15 618.96 L58.46 620.56 L57.85 622.38 L58.34 624.83 L59.16 626.16 L57.71 627.55 L57.72 629.37 L56.64 630.53 L56.14 632.02 L55.23 633.21 L55.41 635.38 L55.3 637.49 L54.27 638.5 L54.47 640.38 L55.09 642.44 L55.23 644.5 L55.14 646 L55.35 647.7 L56.69 649.02 L56.46 651.47 L56.46 652.65 L56 654.51 L55.42 655.99 L55.34 658.17 L54.47 659.67 L54.47 661.75 L55.19 662.87 L56.25 664.38 L55.69 665.88 L55.7 667.78 L55.99 669.71 L56.16 671.31 L56.71 672.91 L57.34 674.72 L57.63 676.23 L56.7 677.56 L57.32 679.77 L57.42 681.37 L56.46 683.13 L57.49 684.71 L56.55 685.93 L56.63 687.94 L56.4 689.4" fill="none" stroke="#262626" stroke-width="0.75" stroke-dasharray="5 0.8 3 0.8"/>
<path d="M48.3 728.83 L51.23 729.71 L52.37 729.51 L54.29 730.9 L55.48 731.65 L56.8 732.8" fill="none" stroke="#262626" stroke-width="0.75" stroke-dasharray="5 0.8 3 0.8"/>
<path d="M14.72 621.5 L13.08 623.58 L13.73 625.31 L12.43 627.22 L11.7 629.36 L12.52 630.34 L12.77 632.31 L12.35 633.71 L11.9 635.4" fill="none" stroke="#262626" stroke-width="0.75" stroke-dasharray="5 0.8 3 0.8"/>
<path d="M66.24 621.17 L67.26 623.11 L67.9 624.06 L69.06 625.75 L70.97 627.77 L71.13 628.83 L70.37 630.96 L71.45 632.58 L71.98 633.45 L71.9 635.4" fill="none" stroke="#262626" stroke-width="0.75" stroke-dasharray="5 0.8 3 0.8"/>
<path d="M68.61 705.06 L68.56 706.93 L70.17 708.34 L71.18 709.96 L70.86 711.03 L72.27 713.13 L72.45 714.48 L72.31 716.18 L73.27 717.6 L72.37 719.16 L72.18 721.18 L71.68 722.5 L70.48 724.18 L70.4 725.4" fill="none" stroke="#262626" stroke-width="0.75" stroke-dasharray="5 0.8 3 0.8"/>
<path d="M23.48 618.25 L21.2 620.56 L17.09 623.78 L16.84 625.83 L15.63 630.48 L15.94 633.69 L13.95 635.39 L14.8 638.27 L14.65 640.7 L16.18 642.39 L19.89 644.23 L20.78 648.41 L20.99 653.88 L22.22 657.25 L21.41 660.2 L17.53 662.03 L16.55 664.68 L14.83 666.85 L13.99 671.41 L13.43 676.68 L14.21 681.29 L14.66 686.81 L14.58 692.12 L16.8 696.39 L18.11 701.72 L17.21 704.4 L14.52 707.32 L13.75 711.03 L11.61 718.76 L12.63 726.43 L11.29 733.58 L13.26 737.7 L13.78 741.48 L14.83 744.37 L12.56 747.01 L11.52 751.43 L9.91 755 L8.62 760.77 L8.05 766.38 L6.97 773.12" fill="none" stroke="#262626" stroke-width="0.75" stroke-dasharray="5 0.8 3 0.8"/>
<path d="M63.59 618.3 L65.93 620.81 L68.09 623.26 L67.9 626.6 L68.41 630.21 L69.49 633.33 L69.84 637.73 L68.84 640.32 L67.25 642.61 L64.86 643.92 L62.59 648.29 L60.26 653.5 L61.39 660 L62.94 662.58 L65.87 664.35 L69.59 666.65 L70.1 669.95 L70.6 673.52 L71.67 677.64 L71.5 680.61 L69.24 684.26 L67.72 687.08 L65.62 691.97 L66.57 696.92 L65.72 704.12 L66.56 707.43 L69.28 711.05 L70.13 715.45 L71.58 718.89 L68.55 722.77 L65.08 726.24 L63.38 728.97 L62.28 732.96 L56.9 738.16 L55.9 740.5 L57.02 743.63 L56.19 746.4 L59.15 749.64 L61.99 752.5 L65.2 754.77 L67.42 757.01 L70.41 760 L71.48 763.53 L73.33 766.76 L74.26 771.57 L73.16 773.96" fill="none" stroke="#262626" stroke-width="0.75" stroke-dasharray="5 0.8 3 0.8"/>
<ellipse cx="20.4" cy="642.4" rx="2.2" ry="1.2" fill="#e8e8e8"/>
<ellipse cx="22.4" cy="647.4" rx="1.5" ry="1" fill="#e8e8e8"/>
<ellipse cx="62.4" cy="646.4" rx="1.2" ry="3" fill="#e8e8e8"/>
<ellipse cx="63.4" cy="653.4" rx="1" ry="2.2" fill="#e8e8e8"/>
<ellipse cx="55.4" cy="749.4" rx="1.3" ry="1.6" fill="#e8e8e8"/>
<ellipse cx="49" cy="742" rx="0.7" ry="0.7" fill="#e8e8e8"/>
<ellipse cx="11.4" cy="736.4" rx="0.9" ry="1.2" fill="#e8e8e8"/>
</g>
<clipPath id="disc3"><path d="M4 763.6 H77.5 Q78.8 765 78.5 766 L82.3 767.5 L80 770.5 L78.3 771 L78.2 778.5 H3.2 Q2 771 4 763.6Z"/></clipPath>
<g clip-path="url(#disc3)">
<g filter="url(#bl)">
<rect x="0" y="760.8" width="100" height="20.6" fill="#6CCB4B"/>
<ellipse cx="24" cy="773.3" rx="11" ry="3.5" fill="#F2E21E"/>
<ellipse cx="20" cy="774.8" rx="5" ry="3" fill="#F39A1F"/>
<ellipse cx="29" cy="777.8" rx="5" ry="2.2" fill="#E0251B"/>
<ellipse cx="42" cy="775.8" rx="7" ry="3" fill="#B8DC3A"/>
<ellipse cx="51" cy="765.8" rx="21" ry="3.6" fill="#1A4FD6"/>
<ellipse cx="50" cy="769.8" rx="19" ry="2" fill="#3FC3E6"/>
<polygon points="42,781.8 60,771.3 74,765.8 84,764.8 84,781.8" fill="#E0251B"/>
<ellipse cx="8" cy="768.8" rx="7" ry="6" fill="#E0251B"/>
<ellipse cx="77" cy="767.8" rx="6" ry="4" fill="#E0251B"/>
<ellipse cx="6" cy="776.8" rx="5" ry="4" fill="#3FC3E6"/>
<ellipse cx="4" cy="777.8" rx="2.5" ry="2.5" fill="#1A4FD6"/>
</g>
</g>
<line x1="136.1" y1="160.5" x2="372" y2="160.5" stroke="#DEDEDE" stroke-width="1"/>
<text x="131" y="163.9" font-size="11" text-anchor="end" fill="#595959" textLength="15.4" lengthAdjust="spacingAndGlyphs">0.0</text>
<line x1="136.1" y1="139.5" x2="372" y2="139.5" stroke="#DEDEDE" stroke-width="1"/>
<text x="131" y="142.82" font-size="11" text-anchor="end" fill="#595959" textLength="15.4" lengthAdjust="spacingAndGlyphs">0.5</text>
<line x1="136.1" y1="118.5" x2="372" y2="118.5" stroke="#DEDEDE" stroke-width="1"/>
<text x="131" y="121.73" font-size="11" text-anchor="end" fill="#595959" textLength="15.4" lengthAdjust="spacingAndGlyphs">1.0</text>
<line x1="136.1" y1="97.5" x2="372" y2="97.5" stroke="#DEDEDE" stroke-width="1"/>
<text x="131" y="100.65" font-size="11" text-anchor="end" fill="#595959" textLength="15.4" lengthAdjust="spacingAndGlyphs">1.5</text>
<line x1="136.1" y1="76.5" x2="372" y2="76.5" stroke="#DEDEDE" stroke-width="1"/>
<text x="131" y="79.57" font-size="11" text-anchor="end" fill="#595959" textLength="15.4" lengthAdjust="spacingAndGlyphs">2.0</text>
<line x1="136.1" y1="54.5" x2="372" y2="54.5" stroke="#DEDEDE" stroke-width="1"/>
<text x="131" y="58.48" font-size="11" text-anchor="end" fill="#595959" textLength="15.4" lengthAdjust="spacingAndGlyphs">2.5</text>
<line x1="136.1" y1="33.5" x2="372" y2="33.5" stroke="#DEDEDE" stroke-width="1"/>
<text x="131" y="37.4" font-size="11" text-anchor="end" fill="#595959" textLength="15.4" lengthAdjust="spacingAndGlyphs">3.0</text>
<text transform="translate(106.6 96.7) rotate(-90)" x="0" y="0" font-size="11.2" text-anchor="middle" fill="#595959" textLength="94" lengthAdjust="spacingAndGlyphs">Normalized values</text>
<text x="188.8" y="19" font-size="13" text-anchor="start" fill="#595959" textLength="88.8" lengthAdjust="spacingAndGlyphs">L2-L3 disc - ε1</text>
<text x="160.9" y="177.4" font-size="11" text-anchor="start" fill="#595959" textLength="36.3" lengthAdjust="spacingAndGlyphs">Flexion</text>
<text x="224.1" y="177.4" font-size="11" text-anchor="start" fill="#595959" textLength="50.1" lengthAdjust="spacingAndGlyphs">Extension</text>
<text x="306.3" y="173" font-size="11" text-anchor="start" fill="#595959" textLength="34.4" lengthAdjust="spacingAndGlyphs">Lateral</text>
<text x="303" y="183.7" font-size="11" text-anchor="start" fill="#595959" textLength="41.6" lengthAdjust="spacingAndGlyphs">bending</text>
<line x1="170.55" y1="126.1" x2="170.55" y2="130.1" stroke="#DB8BCF" stroke-width="1"/>
<line x1="167.55" y1="130.1" x2="173.55" y2="130.1" stroke="#C257AE" stroke-width="1.6"/>
<line x1="194" y1="72.3" x2="194" y2="71.4" stroke="#B9D9D9" stroke-width="1"/>
<line x1="191" y1="71.4" x2="197" y2="71.4" stroke="#B9D9D9" stroke-width="1"/>
<line x1="194" y1="117.9" x2="194" y2="123.5" stroke="#B9D9D9" stroke-width="1"/>
<line x1="191" y1="123.5" x2="197" y2="123.5" stroke="#B9D9D9" stroke-width="1"/>
<line x1="241.15" y1="80.3" x2="241.15" y2="74.7" stroke="#7E1F7E" stroke-width="1.6"/>
<line x1="238.15" y1="74.7" x2="244.15" y2="74.7" stroke="#7E1F7E" stroke-width="1.8"/>
<line x1="241.15" y1="126.8" x2="241.15" y2="127.4" stroke="#DB8BCF" stroke-width="1"/>
<line x1="238.15" y1="127.4" x2="244.15" y2="127.4" stroke="#C257AE" stroke-width="1.6"/>
<line x1="264.4" y1="62.4" x2="264.4" y2="59.6" stroke="#B9D9D9" stroke-width="1"/>
<line x1="261.4" y1="59.6" x2="267.4" y2="59.6" stroke="#B9D9D9" stroke-width="1"/>
<line x1="264.4" y1="107.5" x2="264.4" y2="113.8" stroke="#B9D9D9" stroke-width="1"/>
<line x1="261.4" y1="113.8" x2="267.4" y2="113.8" stroke="#B9D9D9" stroke-width="1"/>
<line x1="311.8" y1="104.7" x2="311.8" y2="103.5" stroke="#7E1F7E" stroke-width="1.6"/>
<line x1="308.8" y1="103.5" x2="314.8" y2="103.5" stroke="#7E1F7E" stroke-width="1.8"/>
<line x1="335.85" y1="77.8" x2="335.85" y2="73.4" stroke="#B9D9D9" stroke-width="1"/>
<line x1="332.85" y1="73.4" x2="338.85" y2="73.4" stroke="#B9D9D9" stroke-width="1"/>
<line x1="335.85" y1="106.8" x2="335.85" y2="111" stroke="#B9D9D9" stroke-width="1"/>
<line x1="332.85" y1="111" x2="338.85" y2="111" stroke="#B9D9D9" stroke-width="1"/>
<line x1="136.1" y1="117.9" x2="378" y2="117.9" stroke="#34A244" stroke-width="2.4" stroke-dasharray="2.6 2.0"/>
<rect x="159.5" y="103.7" width="22.1" height="22" fill="#B92E99" stroke="#8E1F82" stroke-width="0.8"/>
<line x1="159.5" y1="104.2" x2="181.6" y2="104.2" stroke="#86167A" stroke-width="1.1" stroke-opacity="0.8"/>
<line x1="159.1" y1="120.5" x2="182" y2="120.5" stroke="#6E2A8A" stroke-width="1.3"/>
<path d="M167.5 113.2l5 5M172.5 113.2l-5 5" stroke="#7A3A9A" stroke-width="0.9" fill="none"/>
<rect x="183.3" y="72.6" width="21.4" height="45" fill="url(#fixp)" stroke="#3C8C8C" stroke-width="0.6" stroke-opacity="0.7"/>
<rect x="230.5" y="80.7" width="21.3" height="45.7" fill="#B92E99" stroke="#8E1F82" stroke-width="0.8"/>
<line x1="230.5" y1="81.2" x2="251.8" y2="81.2" stroke="#86167A" stroke-width="1.1" stroke-opacity="0.8"/>
<path d="M238.5 103.9l5 5M243.5 103.9l-5 5" stroke="#7A3A9A" stroke-width="0.9" fill="none"/>
<rect x="253.7" y="62.7" width="21.4" height="44.5" fill="url(#fixp)" stroke="#3C8C8C" stroke-width="0.6" stroke-opacity="0.7"/>
<rect x="301" y="105.1" width="21.6" height="21.8" fill="#B92E99" stroke="#8E1F82" stroke-width="0.8"/>
<line x1="301" y1="105.6" x2="322.6" y2="105.6" stroke="#86167A" stroke-width="1.1" stroke-opacity="0.8"/>
<line x1="300.6" y1="123.1" x2="323" y2="123.1" stroke="#6E2A8A" stroke-width="1.3"/>
<path d="M309.8 115.2l5 5M314.8 115.2l-5 5" stroke="#7A3A9A" stroke-width="0.9" fill="none"/>
<rect x="325.2" y="78.1" width="21.3" height="28.4" fill="url(#fixp)" stroke="#3C8C8C" stroke-width="0.6" stroke-opacity="0.7"/>
<path d="M313.7 53.5V47.4H338.4V53.5" fill="none" stroke="#4A4A4A" stroke-width="1.6" stroke-linejoin="round"/>
<path d="M326.3 39.3V44.3M324.05 40.55L328.55 43.05M324.05 43.05L328.55 40.55" stroke="#151515" stroke-width="1.25" stroke-linecap="round" fill="none"/>
<path d="M336.1 58.7V63.7M333.85 59.95L338.35 62.45M333.85 62.45L338.35 59.95" stroke="#151515" stroke-width="1.25" stroke-linecap="round" fill="none"/>
<line x1="444.4" y1="161.5" x2="677.5" y2="161.5" stroke="#DEDEDE" stroke-width="1"/>
<text x="438.8" y="165.1" font-size="11" text-anchor="end" fill="#595959" textLength="15.4" lengthAdjust="spacingAndGlyphs">0.0</text>
<line x1="444.4" y1="140.5" x2="677.5" y2="140.5" stroke="#DEDEDE" stroke-width="1"/>
<text x="438.8" y="144.12" font-size="11" text-anchor="end" fill="#595959" textLength="15.4" lengthAdjust="spacingAndGlyphs">0.5</text>
<line x1="444.4" y1="119.5" x2="677.5" y2="119.5" stroke="#DEDEDE" stroke-width="1"/>
<text x="438.8" y="123.13" font-size="11" text-anchor="end" fill="#595959" textLength="15.4" lengthAdjust="spacingAndGlyphs">1.0</text>
<line x1="444.4" y1="98.5" x2="677.5" y2="98.5" stroke="#DEDEDE" stroke-width="1"/>
<text x="438.8" y="102.15" font-size="11" text-anchor="end" fill="#595959" textLength="15.4" lengthAdjust="spacingAndGlyphs">1.5</text>
<line x1="444.4" y1="77.5" x2="677.5" y2="77.5" stroke="#DEDEDE" stroke-width="1"/>
<text x="438.8" y="81.17" font-size="11" text-anchor="end" fill="#595959" textLength="15.4" lengthAdjust="spacingAndGlyphs">2.0</text>
<line x1="444.4" y1="56.5" x2="677.5" y2="56.5" stroke="#DEDEDE" stroke-width="1"/>
<text x="438.8" y="60.18" font-size="11" text-anchor="end" fill="#595959" textLength="15.4" lengthAdjust="spacingAndGlyphs">2.5</text>
<line x1="444.4" y1="35.5" x2="677.5" y2="35.5" stroke="#DEDEDE" stroke-width="1"/>
<text x="438.8" y="39.2" font-size="11" text-anchor="end" fill="#595959" textLength="15.4" lengthAdjust="spacingAndGlyphs">3.0</text>
<text transform="translate(414.8 97.8) rotate(-90)" x="0" y="0" font-size="11.2" text-anchor="middle" fill="#595959" textLength="94.8" lengthAdjust="spacingAndGlyphs">Normalized values</text>
<text x="496.2" y="20.1" font-size="13" text-anchor="start" fill="#595959" textLength="88.9" lengthAdjust="spacingAndGlyphs">L2-L3 disc - ε2</text>
<text x="467.7" y="178.1" font-size="11" text-anchor="start" fill="#595959" textLength="35.9" lengthAdjust="spacingAndGlyphs">Flexion</text>
<text x="530.3" y="178.1" font-size="11" text-anchor="start" fill="#595959" textLength="49.1" lengthAdjust="spacingAndGlyphs">Extension</text>
<text x="612.2" y="172.7" font-size="11" text-anchor="start" fill="#595959" textLength="34.7" lengthAdjust="spacingAndGlyphs">Lateral</text>
<text x="609" y="184.5" font-size="11" text-anchor="start" fill="#595959" textLength="41.7" lengthAdjust="spacingAndGlyphs">bending</text>
<line x1="478.5" y1="101.2" x2="478.5" y2="84.2" stroke="#7E1F7E" stroke-width="1.6"/>
<line x1="475.5" y1="84.2" x2="481.5" y2="84.2" stroke="#7E1F7E" stroke-width="1.8"/>
<line x1="478.5" y1="124.5" x2="478.5" y2="126.6" stroke="#7E1F7E" stroke-width="1.6"/>
<line x1="475.5" y1="126.6" x2="481.5" y2="126.6" stroke="#7E1F7E" stroke-width="1.8"/>
<line x1="501.75" y1="94.7" x2="501.75" y2="92.1" stroke="#B9D9D9" stroke-width="1"/>
<line x1="498.75" y1="92.1" x2="504.75" y2="92.1" stroke="#B9D9D9" stroke-width="1"/>
<line x1="501.75" y1="123.6" x2="501.75" y2="135.9" stroke="#B9D9D9" stroke-width="1"/>
<line x1="498.75" y1="135.9" x2="504.75" y2="135.9" stroke="#B9D9D9" stroke-width="1"/>
<line x1="618.95" y1="105.8" x2="618.95" y2="101.5" stroke="#7E1F7E" stroke-width="1.6"/>
<line x1="615.95" y1="101.5" x2="621.95" y2="101.5" stroke="#7E1F7E" stroke-width="1.8"/>
<line x1="618.95" y1="130.7" x2="618.95" y2="135.9" stroke="#7E1F7E" stroke-width="1.6"/>
<line x1="615.95" y1="135.9" x2="621.95" y2="135.9" stroke="#7E1F7E" stroke-width="1.8"/>
<line x1="642.6" y1="73.2" x2="642.6" y2="72.5" stroke="#B9D9D9" stroke-width="1"/>
<line x1="639.6" y1="72.5" x2="645.6" y2="72.5" stroke="#B9D9D9" stroke-width="1"/>
<line x1="642.6" y1="123.4" x2="642.6" y2="126.8" stroke="#B9D9D9" stroke-width="1"/>
<line x1="639.6" y1="126.8" x2="645.6" y2="126.8" stroke="#B9D9D9" stroke-width="1"/>
<line x1="444.4" y1="109.1" x2="684" y2="109.1" stroke="#34A244" stroke-width="2.4" stroke-dasharray="2.6 2.0"/>
<rect x="468.4" y="101.6" width="20.2" height="22.5" fill="#B92E99" stroke="#8E1F82" stroke-width="0.8"/>
<line x1="468.4" y1="102.1" x2="488.6" y2="102.1" stroke="#86167A" stroke-width="1.1" stroke-opacity="0.8"/>
<path d="M476 111.5l5 5M481 111.5l-5 5" stroke="#7A3A9A" stroke-width="0.9" fill="none"/>
<rect x="491.1" y="95" width="21.3" height="28.3" fill="url(#fixp)" stroke="#3C8C8C" stroke-width="0.6" stroke-opacity="0.7"/>
<rect x="538.3" y="57.8" width="20.7" height="66.4" fill="#B92E99" stroke="#8E1F82" stroke-width="0.8"/>
<line x1="538.3" y1="58.3" x2="559" y2="58.3" stroke="#86167A" stroke-width="1.1" stroke-opacity="0.8"/>
<line x1="537.9" y1="91.3" x2="559.4" y2="91.3" stroke="#6E2A8A" stroke-width="1.3"/>
<path d="M546.1 88.8l5 5M551.1 88.8l-5 5" stroke="#7A3A9A" stroke-width="0.9" fill="none"/>
<rect x="562" y="62.6" width="20.9" height="61" fill="url(#fixp)" stroke="#3C8C8C" stroke-width="0.6" stroke-opacity="0.7"/>
<rect x="608.5" y="106.2" width="20.9" height="24.1" fill="#B92E99" stroke="#8E1F82" stroke-width="0.8"/>
<line x1="608.5" y1="106.7" x2="629.4" y2="106.7" stroke="#86167A" stroke-width="1.1" stroke-opacity="0.8"/>
<line x1="608.1" y1="117.3" x2="629.8" y2="117.3" stroke="#6E2A8A" stroke-width="1.3"/>
<path d="M616.5 114.8l5 5M621.5 114.8l-5 5" stroke="#7A3A9A" stroke-width="0.9" fill="none"/>
<rect x="632.6" y="73.5" width="20" height="49.6" fill="url(#fixp)" stroke="#3C8C8C" stroke-width="0.6" stroke-opacity="0.7"/>
<line x1="139.4" y1="361.5" x2="373" y2="361.5" stroke="#DEDEDE" stroke-width="1"/>
<text x="134.2" y="365.3" font-size="11" text-anchor="end" fill="#595959" textLength="15.4" lengthAdjust="spacingAndGlyphs">0.0</text>
<line x1="139.4" y1="346.5" x2="373" y2="346.5" stroke="#DEDEDE" stroke-width="1"/>
<text x="134.2" y="349.54" font-size="11" text-anchor="end" fill="#595959" textLength="15.4" lengthAdjust="spacingAndGlyphs">0.5</text>
<line x1="139.4" y1="330.5" x2="373" y2="330.5" stroke="#DEDEDE" stroke-width="1"/>
<text x="134.2" y="333.77" font-size="11" text-anchor="end" fill="#595959" textLength="15.4" lengthAdjust="spacingAndGlyphs">1.0</text>
<line x1="139.4" y1="314.5" x2="373" y2="314.5" stroke="#DEDEDE" stroke-width="1"/>
<text x="134.2" y="318.01" font-size="11" text-anchor="end" fill="#595959" textLength="15.4" lengthAdjust="spacingAndGlyphs">1.5</text>
<line x1="139.4" y1="298.5" x2="373" y2="298.5" stroke="#DEDEDE" stroke-width="1"/>
<text x="134.2" y="302.25" font-size="11" text-anchor="end" fill="#595959" textLength="15.4" lengthAdjust="spacingAndGlyphs">2.0</text>
<line x1="139.4" y1="282.5" x2="373" y2="282.5" stroke="#DEDEDE" stroke-width="1"/>
<text x="134.2" y="286.49" font-size="11" text-anchor="end" fill="#595959" textLength="15.4" lengthAdjust="spacingAndGlyphs">2.5</text>
<line x1="139.4" y1="267.5" x2="373" y2="267.5" stroke="#DEDEDE" stroke-width="1"/>
<text x="134.2" y="270.73" font-size="11" text-anchor="end" fill="#595959" textLength="15.4" lengthAdjust="spacingAndGlyphs">3.0</text>
<line x1="139.4" y1="251.5" x2="373" y2="251.5" stroke="#DEDEDE" stroke-width="1"/>
<text x="134.2" y="254.96" font-size="11" text-anchor="end" fill="#595959" textLength="15.4" lengthAdjust="spacingAndGlyphs">3.5</text>
<line x1="139.4" y1="235.5" x2="373" y2="235.5" stroke="#DEDEDE" stroke-width="1"/>
<text x="134.2" y="239.2" font-size="11" text-anchor="end" fill="#595959" textLength="15.4" lengthAdjust="spacingAndGlyphs">4.0</text>
<text transform="translate(110.5 297.8) rotate(-90)" x="0" y="0" font-size="11.2" text-anchor="middle" fill="#595959" textLength="94" lengthAdjust="spacingAndGlyphs">Normalized values</text>
<text x="190.6" y="220.6" font-size="13" text-anchor="start" fill="#595959" textLength="90" lengthAdjust="spacingAndGlyphs">L3-L4 disc - ε1</text>
<text x="160.9" y="377.5" font-size="11" text-anchor="start" fill="#595959" textLength="36.3" lengthAdjust="spacingAndGlyphs">Flexion</text>
<text x="224.1" y="377.5" font-size="11" text-anchor="start" fill="#595959" textLength="49.2" lengthAdjust="spacingAndGlyphs">Extension</text>
<text x="306.3" y="371.7" font-size="11" text-anchor="start" fill="#595959" textLength="34.4" lengthAdjust="spacingAndGlyphs">Lateral</text>
<text x="303" y="383.3" font-size="11" text-anchor="start" fill="#595959" textLength="41.6" lengthAdjust="spacingAndGlyphs">bending</text>
<line x1="173.35" y1="324.2" x2="173.35" y2="315.3" stroke="#DB8BCF" stroke-width="1"/>
<line x1="170.35" y1="315.3" x2="176.35" y2="315.3" stroke="#C257AE" stroke-width="1.6"/>
<line x1="173.35" y1="337.5" x2="173.35" y2="339.1" stroke="#DB8BCF" stroke-width="1"/>
<line x1="170.35" y1="339.1" x2="176.35" y2="339.1" stroke="#C257AE" stroke-width="1.6"/>
<line x1="243.6" y1="294.8" x2="243.6" y2="282.7" stroke="#DB8BCF" stroke-width="1"/>
<line x1="240.6" y1="282.7" x2="246.6" y2="282.7" stroke="#C257AE" stroke-width="1.6"/>
<line x1="243.6" y1="340.5" x2="243.6" y2="341.7" stroke="#DB8BCF" stroke-width="1"/>
<line x1="240.6" y1="341.7" x2="246.6" y2="341.7" stroke="#C257AE" stroke-width="1.6"/>
<line x1="267.4" y1="270.2" x2="267.4" y2="244" stroke="#B9D9D9" stroke-width="1"/>
<line x1="264.4" y1="244" x2="270.4" y2="244" stroke="#B9D9D9" stroke-width="1"/>
<line x1="314.5" y1="326.3" x2="314.5" y2="323.5" stroke="#DB8BCF" stroke-width="1"/>
<line x1="311.5" y1="323.5" x2="317.5" y2="323.5" stroke="#C257AE" stroke-width="1.6"/>
<line x1="337.75" y1="299.4" x2="337.75" y2="287.7" stroke="#B9D9D9" stroke-width="1"/>
<line x1="334.75" y1="287.7" x2="340.75" y2="287.7" stroke="#B9D9D9" stroke-width="1"/>
<line x1="337.75" y1="322.8" x2="337.75" y2="328.6" stroke="#B9D9D9" stroke-width="1"/>
<line x1="334.75" y1="328.6" x2="340.75" y2="328.6" stroke="#B9D9D9" stroke-width="1"/>
<line x1="139.4" y1="328.8" x2="378" y2="328.8" stroke="#34A244" stroke-width="2.4" stroke-dasharray="2.6 2.0"/>
<rect x="162.5" y="324.6" width="21.7" height="12.5" fill="#B92E99" stroke="#8E1F82" stroke-width="0.8"/>
<line x1="162.5" y1="325.1" x2="184.2" y2="325.1" stroke="#86167A" stroke-width="1.1" stroke-opacity="0.8"/>
<line x1="162.1" y1="333.3" x2="184.6" y2="333.3" stroke="#6E2A8A" stroke-width="1.3"/>
<path d="M171.6 328l5 5M176.6 328l-5 5" stroke="#7A3A9A" stroke-width="0.9" fill="none"/>
<rect x="185.8" y="279.4" width="21.7" height="54.8" fill="url(#fixp)" stroke="#3C8C8C" stroke-width="0.6" stroke-opacity="0.7"/>
<rect x="233.3" y="295.2" width="20.6" height="44.9" fill="#B92E99" stroke="#8E1F82" stroke-width="0.8"/>
<line x1="233.3" y1="295.7" x2="253.9" y2="295.7" stroke="#86167A" stroke-width="1.1" stroke-opacity="0.8"/>
<line x1="232.9" y1="328.1" x2="254.3" y2="328.1" stroke="#6E2A8A" stroke-width="1.3"/>
<path d="M241 317.5l5 5M246 317.5l-5 5" stroke="#7A3A9A" stroke-width="0.9" fill="none"/>
<rect x="257.2" y="270.5" width="20.4" height="60.4" fill="url(#fixp)" stroke="#3C8C8C" stroke-width="0.6" stroke-opacity="0.7"/>
<rect x="303.8" y="326.7" width="21.4" height="7.4" fill="#B92E99" stroke="#8E1F82" stroke-width="0.8"/>
<line x1="303.8" y1="327.2" x2="325.2" y2="327.2" stroke="#86167A" stroke-width="1.1" stroke-opacity="0.8"/>
<path d="M311.6 327.5l5 5M316.6 327.5l-5 5" stroke="#7A3A9A" stroke-width="0.9" fill="none"/>
<rect x="327.3" y="299.7" width="20.9" height="22.8" fill="url(#fixp)" stroke="#3C8C8C" stroke-width="0.6" stroke-opacity="0.7"/>
<path d="M171 267.4V261.1H196V267.4" fill="none" stroke="#4A4A4A" stroke-width="1.6" stroke-linejoin="round"/>
<path d="M184.3 252.8V257.8M182.05 254.05L186.55 256.55M182.05 256.55L186.55 254.05" stroke="#151515" stroke-width="1.25" stroke-linecap="round" fill="none"/>
<path d="M313.7 274.9V268.1H338.7V274.9" fill="none" stroke="#4A4A4A" stroke-width="1.6" stroke-linejoin="round"/>
<path d="M326.8 260.2V265.2M324.55 261.45L329.05 263.95M324.55 263.95L329.05 261.45" stroke="#151515" stroke-width="1.25" stroke-linecap="round" fill="none"/>
<line x1="444.1" y1="360.5" x2="678" y2="360.5" stroke="#DEDEDE" stroke-width="1"/>
<text x="439.2" y="364.4" font-size="11" text-anchor="end" fill="#595959" textLength="15.4" lengthAdjust="spacingAndGlyphs">0.0</text>
<line x1="444.1" y1="345.5" x2="678" y2="345.5" stroke="#DEDEDE" stroke-width="1"/>
<text x="439.2" y="348.54" font-size="11" text-anchor="end" fill="#595959" textLength="15.4" lengthAdjust="spacingAndGlyphs">1.0</text>
<line x1="444.1" y1="329.5" x2="678" y2="329.5" stroke="#DEDEDE" stroke-width="1"/>
<text x="439.2" y="332.67" font-size="11" text-anchor="end" fill="#595959" textLength="15.4" lengthAdjust="spacingAndGlyphs">2.0</text>
<line x1="444.1" y1="313.5" x2="678" y2="313.5" stroke="#DEDEDE" stroke-width="1"/>
<text x="439.2" y="316.81" font-size="11" text-anchor="end" fill="#595959" textLength="15.4" lengthAdjust="spacingAndGlyphs">3.0</text>
<line x1="444.1" y1="297.5" x2="678" y2="297.5" stroke="#DEDEDE" stroke-width="1"/>
<text x="439.2" y="300.95" font-size="11" text-anchor="end" fill="#595959" textLength="15.4" lengthAdjust="spacingAndGlyphs">4.0</text>
<line x1="444.1" y1="281.5" x2="678" y2="281.5" stroke="#DEDEDE" stroke-width="1"/>
<text x="439.2" y="285.09" font-size="11" text-anchor="end" fill="#595959" textLength="15.4" lengthAdjust="spacingAndGlyphs">5.0</text>
<line x1="444.1" y1="265.5" x2="678" y2="265.5" stroke="#DEDEDE" stroke-width="1"/>
<text x="439.2" y="269.23" font-size="11" text-anchor="end" fill="#595959" textLength="15.4" lengthAdjust="spacingAndGlyphs">6.0</text>
<line x1="444.1" y1="249.5" x2="678" y2="249.5" stroke="#DEDEDE" stroke-width="1"/>
<text x="439.2" y="253.36" font-size="11" text-anchor="end" fill="#595959" textLength="15.4" lengthAdjust="spacingAndGlyphs">7.0</text>
<line x1="444.1" y1="234.5" x2="678" y2="234.5" stroke="#DEDEDE" stroke-width="1"/>
<text x="439.2" y="237.5" font-size="11" text-anchor="end" fill="#595959" textLength="15.4" lengthAdjust="spacingAndGlyphs">8.0</text>
<text transform="translate(415.5 296.4) rotate(-90)" x="0" y="0" font-size="11.2" text-anchor="middle" fill="#595959" textLength="94.5" lengthAdjust="spacingAndGlyphs">Normalized values</text>
<text x="495.9" y="219.5" font-size="13" text-anchor="start" fill="#595959" textLength="89.2" lengthAdjust="spacingAndGlyphs">L3-L4 disc - ε2</text>
<text x="466.7" y="377.5" font-size="11" text-anchor="start" fill="#595959" textLength="35.6" lengthAdjust="spacingAndGlyphs">Flexion</text>
<text x="529.6" y="377.5" font-size="11" text-anchor="start" fill="#595959" textLength="49.8" lengthAdjust="spacingAndGlyphs">Extension</text>
<text x="612.2" y="371.7" font-size="11" text-anchor="start" fill="#595959" textLength="34.3" lengthAdjust="spacingAndGlyphs">Lateral</text>
<text x="608.3" y="383.9" font-size="11" text-anchor="start" fill="#595959" textLength="41.4" lengthAdjust="spacingAndGlyphs">bending</text>
<line x1="478.75" y1="338.2" x2="478.75" y2="325.3" stroke="#7E1F7E" stroke-width="1.6"/>
<line x1="475.75" y1="325.3" x2="481.75" y2="325.3" stroke="#7E1F7E" stroke-width="1.8"/>
<line x1="478.75" y1="347.3" x2="478.75" y2="348.7" stroke="#7E1F7E" stroke-width="1.6"/>
<line x1="475.75" y1="348.7" x2="481.75" y2="348.7" stroke="#7E1F7E" stroke-width="1.8"/>
<line x1="501.55" y1="327.7" x2="501.55" y2="309.5" stroke="#B9D9D9" stroke-width="1"/>
<line x1="498.55" y1="309.5" x2="504.55" y2="309.5" stroke="#B9D9D9" stroke-width="1"/>
<line x1="501.55" y1="345.7" x2="501.55" y2="352" stroke="#B9D9D9" stroke-width="1"/>
<line x1="498.55" y1="352" x2="504.55" y2="352" stroke="#B9D9D9" stroke-width="1"/>
<line x1="548.75" y1="272.1" x2="548.75" y2="245.9" stroke="#DB8BCF" stroke-width="1"/>
<line x1="545.75" y1="245.9" x2="551.75" y2="245.9" stroke="#C257AE" stroke-width="1.6"/>
<line x1="572.4" y1="343.3" x2="572.4" y2="341.7" stroke="#B9D9D9" stroke-width="1"/>
<line x1="569.4" y1="341.7" x2="575.4" y2="341.7" stroke="#B9D9D9" stroke-width="1"/>
<line x1="619.25" y1="335.6" x2="619.25" y2="332.3" stroke="#7E1F7E" stroke-width="1.6"/>
<line x1="616.25" y1="332.3" x2="622.25" y2="332.3" stroke="#7E1F7E" stroke-width="1.8"/>
<line x1="619.25" y1="345.7" x2="619.25" y2="349.6" stroke="#7E1F7E" stroke-width="1.6"/>
<line x1="616.25" y1="349.6" x2="622.25" y2="349.6" stroke="#7E1F7E" stroke-width="1.8"/>
<line x1="642.75" y1="326.3" x2="642.75" y2="313" stroke="#B9D9D9" stroke-width="1"/>
<line x1="639.75" y1="313" x2="645.75" y2="313" stroke="#B9D9D9" stroke-width="1"/>
<line x1="642.75" y1="345.2" x2="642.75" y2="348.7" stroke="#B9D9D9" stroke-width="1"/>
<line x1="639.75" y1="348.7" x2="645.75" y2="348.7" stroke="#B9D9D9" stroke-width="1"/>
<line x1="444.1" y1="344.5" x2="684" y2="344.5" stroke="#34A244" stroke-width="2.4" stroke-dasharray="2.6 2.0"/>
<rect x="468.3" y="338.6" width="20.9" height="8.3" fill="#B92E99" stroke="#8E1F82" stroke-width="0.8"/>
<line x1="468.3" y1="339.1" x2="489.2" y2="339.1" stroke="#86167A" stroke-width="1.1" stroke-opacity="0.8"/>
<line x1="467.9" y1="344.5" x2="489.6" y2="344.5" stroke="#6E2A8A" stroke-width="1.3"/>
<path d="M475.9 340.1l5 5M480.9 340.1l-5 5" stroke="#7A3A9A" stroke-width="0.9" fill="none"/>
<rect x="491.1" y="328" width="20.9" height="17.4" fill="url(#fixp)" stroke="#3C8C8C" stroke-width="0.6" stroke-opacity="0.7"/>
<rect x="538.3" y="272.5" width="20.9" height="78.1" fill="#B92E99" stroke="#8E1F82" stroke-width="0.8"/>
<line x1="538.3" y1="273" x2="559.2" y2="273" stroke="#86167A" stroke-width="1.1" stroke-opacity="0.8"/>
<path d="M546 322.1l5 5M551 322.1l-5 5" stroke="#7A3A9A" stroke-width="0.9" fill="none"/>
<rect x="562.2" y="343.6" width="20.4" height="7.1" fill="url(#fixp)" stroke="#3C8C8C" stroke-width="0.6" stroke-opacity="0.7"/>
<rect x="608.8" y="336" width="20.9" height="9.3" fill="#B92E99" stroke="#8E1F82" stroke-width="0.8"/>
<line x1="608.8" y1="336.5" x2="629.7" y2="336.5" stroke="#86167A" stroke-width="1.1" stroke-opacity="0.8"/>
<line x1="608.4" y1="343.3" x2="630.1" y2="343.3" stroke="#6E2A8A" stroke-width="1.3"/>
<path d="M616.6 339.2l5 5M621.6 339.2l-5 5" stroke="#7A3A9A" stroke-width="0.9" fill="none"/>
<rect x="632.8" y="326.6" width="19.9" height="18.3" fill="url(#fixp)" stroke="#3C8C8C" stroke-width="0.6" stroke-opacity="0.7"/>
<path d="M476.8 284.2V277.5H502V284.2" fill="none" stroke="#4A4A4A" stroke-width="1.6" stroke-linejoin="round"/>
<path d="M490.1 270.3V275.3M487.85 271.55L492.35 274.05M487.85 274.05L492.35 271.55" stroke="#151515" stroke-width="1.25" stroke-linecap="round" fill="none"/>
<path d="M502 298.3V303.3M499.75 299.55L504.25 302.05M499.75 302.05L504.25 299.55" stroke="#151515" stroke-width="1.25" stroke-linecap="round" fill="none"/>
<line x1="138.6" y1="565.5" x2="372" y2="565.5" stroke="#DEDEDE" stroke-width="1"/>
<text x="133" y="568.8" font-size="11" text-anchor="end" fill="#595959" textLength="15.4" lengthAdjust="spacingAndGlyphs">0.0</text>
<line x1="138.6" y1="539.5" x2="372" y2="539.5" stroke="#DEDEDE" stroke-width="1"/>
<text x="133" y="543.48" font-size="11" text-anchor="end" fill="#595959" textLength="15.4" lengthAdjust="spacingAndGlyphs">0.5</text>
<line x1="138.6" y1="514.5" x2="372" y2="514.5" stroke="#DEDEDE" stroke-width="1"/>
<text x="133" y="518.16" font-size="11" text-anchor="end" fill="#595959" textLength="15.4" lengthAdjust="spacingAndGlyphs">1.0</text>
<line x1="138.6" y1="489.5" x2="372" y2="489.5" stroke="#DEDEDE" stroke-width="1"/>
<text x="133" y="492.84" font-size="11" text-anchor="end" fill="#595959" textLength="15.4" lengthAdjust="spacingAndGlyphs">1.5</text>
<line x1="138.6" y1="464.5" x2="372" y2="464.5" stroke="#DEDEDE" stroke-width="1"/>
<text x="133" y="467.52" font-size="11" text-anchor="end" fill="#595959" textLength="15.4" lengthAdjust="spacingAndGlyphs">2.0</text>
<line x1="138.6" y1="438.5" x2="372" y2="438.5" stroke="#DEDEDE" stroke-width="1"/>
<text x="133" y="442.2" font-size="11" text-anchor="end" fill="#595959" textLength="15.4" lengthAdjust="spacingAndGlyphs">2.5</text>
<text transform="translate(108.5 501.5) rotate(-90)" x="0" y="0" font-size="11.2" text-anchor="middle" fill="#595959" textLength="93.6" lengthAdjust="spacingAndGlyphs">Normalized values</text>
<text x="189" y="424" font-size="13" text-anchor="start" fill="#595959" textLength="88.8" lengthAdjust="spacingAndGlyphs">L4-L5 disc - ε1</text>
<text x="161.8" y="581.8" font-size="11" text-anchor="start" fill="#595959" textLength="36" lengthAdjust="spacingAndGlyphs">Flexion</text>
<text x="225.1" y="581.8" font-size="11" text-anchor="start" fill="#595959" textLength="49.1" lengthAdjust="spacingAndGlyphs">Extension</text>
<text x="307" y="576.7" font-size="11" text-anchor="start" fill="#595959" textLength="35.3" lengthAdjust="spacingAndGlyphs">Lateral</text>
<text x="303.8" y="588.3" font-size="11" text-anchor="start" fill="#595959" textLength="41.1" lengthAdjust="spacingAndGlyphs">bending</text>
<line x1="171.75" y1="515.3" x2="171.75" y2="510.6" stroke="#7E1F7E" stroke-width="1.6"/>
<line x1="168.75" y1="510.6" x2="174.75" y2="510.6" stroke="#7E1F7E" stroke-width="1.8"/>
<line x1="171.75" y1="526.5" x2="171.75" y2="530" stroke="#DB8BCF" stroke-width="1"/>
<line x1="168.75" y1="530" x2="174.75" y2="530" stroke="#C257AE" stroke-width="1.6"/>
<line x1="195.35" y1="516.5" x2="195.35" y2="509.9" stroke="#B9D9D9" stroke-width="1"/>
<line x1="192.35" y1="509.9" x2="198.35" y2="509.9" stroke="#B9D9D9" stroke-width="1"/>
<line x1="195.35" y1="537.5" x2="195.35" y2="543.8" stroke="#B9D9D9" stroke-width="1"/>
<line x1="192.35" y1="543.8" x2="198.35" y2="543.8" stroke="#B9D9D9" stroke-width="1"/>
<line x1="241.15" y1="462" x2="241.15" y2="451.8" stroke="#7E1F7E" stroke-width="1.6"/>
<line x1="238.15" y1="451.8" x2="244.15" y2="451.8" stroke="#7E1F7E" stroke-width="1.8"/>
<line x1="241.15" y1="528.6" x2="241.15" y2="534.5" stroke="#7E1F7E" stroke-width="1.6"/>
<line x1="238.15" y1="534.5" x2="244.15" y2="534.5" stroke="#7E1F7E" stroke-width="1.8"/>
<line x1="264.85" y1="528.1" x2="264.85" y2="524.2" stroke="#B9D9D9" stroke-width="1"/>
<line x1="261.85" y1="524.2" x2="267.85" y2="524.2" stroke="#B9D9D9" stroke-width="1"/>
<line x1="264.85" y1="541.7" x2="264.85" y2="548" stroke="#B9D9D9" stroke-width="1"/>
<line x1="261.85" y1="548" x2="267.85" y2="548" stroke="#B9D9D9" stroke-width="1"/>
<line x1="311.55" y1="509.9" x2="311.55" y2="503.6" stroke="#7E1F7E" stroke-width="1.6"/>
<line x1="308.55" y1="503.6" x2="314.55" y2="503.6" stroke="#7E1F7E" stroke-width="1.8"/>
<line x1="311.55" y1="521.6" x2="311.55" y2="528.1" stroke="#7E1F7E" stroke-width="1.6"/>
<line x1="308.55" y1="528.1" x2="314.55" y2="528.1" stroke="#7E1F7E" stroke-width="1.8"/>
<line x1="335.05" y1="531.7" x2="335.05" y2="524.2" stroke="#3F8F8F" stroke-width="1.2"/>
<line x1="332.05" y1="524.2" x2="338.05" y2="524.2" stroke="#3F8F8F" stroke-width="1.2"/>
<line x1="138.6" y1="514.8" x2="378" y2="514.8" stroke="#34A244" stroke-width="2.4" stroke-dasharray="2.6 2.0"/>
<rect x="160.9" y="515.7" width="21.7" height="10.4" fill="#B92E99" stroke="#8E1F82" stroke-width="0.8"/>
<line x1="160.9" y1="516.2" x2="182.6" y2="516.2" stroke="#86167A" stroke-width="1.1" stroke-opacity="0.8"/>
<path d="M168.8 519.3l5 5M173.8 519.3l-5 5" stroke="#7A3A9A" stroke-width="0.9" fill="none"/>
<rect x="184.9" y="516.8" width="20.9" height="20.4" fill="url(#fixp)" stroke="#3C8C8C" stroke-width="0.6" stroke-opacity="0.7"/>
<rect x="230.5" y="462.4" width="21.3" height="65.8" fill="#B92E99" stroke="#8E1F82" stroke-width="0.8"/>
<line x1="230.5" y1="462.9" x2="251.8" y2="462.9" stroke="#86167A" stroke-width="1.1" stroke-opacity="0.8"/>
<line x1="230.1" y1="483.3" x2="252.2" y2="483.3" stroke="#6E2A8A" stroke-width="1.3"/>
<path d="M238.7 490.1l5 5M243.7 490.1l-5 5" stroke="#7A3A9A" stroke-width="0.9" fill="none"/>
<rect x="254.6" y="528.4" width="20.5" height="13" fill="url(#fixp)" stroke="#3C8C8C" stroke-width="0.6" stroke-opacity="0.7"/>
<rect x="301.4" y="510.3" width="20.3" height="10.9" fill="#B92E99" stroke="#8E1F82" stroke-width="0.8"/>
<line x1="301.4" y1="510.8" x2="321.7" y2="510.8" stroke="#86167A" stroke-width="1.1" stroke-opacity="0.8"/>
<path d="M308.6 512.3l5 5M313.6 512.3l-5 5" stroke="#7A3A9A" stroke-width="0.9" fill="none"/>
<rect x="324.3" y="532" width="21.5" height="7.5" fill="url(#fixp)" stroke="#3C8C8C" stroke-width="0.6" stroke-opacity="0.7"/>
<path d="M239.9 444V437.7H264.4V444" fill="none" stroke="#4A4A4A" stroke-width="1.6" stroke-linejoin="round"/>
<path d="M253.2 429.9V434.9M250.95 431.15L255.45 433.65M250.95 433.65L255.45 431.15" stroke="#151515" stroke-width="1.25" stroke-linecap="round" fill="none"/>
<path d="M193.5 492.5V497.5M191.25 493.75L195.75 496.25M191.25 496.25L195.75 493.75" stroke="#151515" stroke-width="1.25" stroke-linecap="round" fill="none"/>
<line x1="444.5" y1="560.5" x2="680.3" y2="560.5" stroke="#DEDEDE" stroke-width="1"/>
<text x="439.2" y="564.4" font-size="11" text-anchor="end" fill="#595959" textLength="15.4" lengthAdjust="spacingAndGlyphs">0.0</text>
<line x1="444.5" y1="536.5" x2="680.3" y2="536.5" stroke="#DEDEDE" stroke-width="1"/>
<text x="439.2" y="539.64" font-size="11" text-anchor="end" fill="#595959" textLength="15.4" lengthAdjust="spacingAndGlyphs">0.5</text>
<line x1="444.5" y1="511.5" x2="680.3" y2="511.5" stroke="#DEDEDE" stroke-width="1"/>
<text x="439.2" y="514.88" font-size="11" text-anchor="end" fill="#595959" textLength="15.4" lengthAdjust="spacingAndGlyphs">1.0</text>
<line x1="444.5" y1="486.5" x2="680.3" y2="486.5" stroke="#DEDEDE" stroke-width="1"/>
<text x="439.2" y="490.12" font-size="11" text-anchor="end" fill="#595959" textLength="15.4" lengthAdjust="spacingAndGlyphs">1.5</text>
<line x1="444.5" y1="461.5" x2="680.3" y2="461.5" stroke="#DEDEDE" stroke-width="1"/>
<text x="439.2" y="465.36" font-size="11" text-anchor="end" fill="#595959" textLength="15.4" lengthAdjust="spacingAndGlyphs">2.0</text>
<line x1="444.5" y1="437.5" x2="680.3" y2="437.5" stroke="#DEDEDE" stroke-width="1"/>
<text x="439.2" y="440.6" font-size="11" text-anchor="end" fill="#595959" textLength="15.4" lengthAdjust="spacingAndGlyphs">2.5</text>
<text transform="translate(415.5 497.9) rotate(-90)" x="0" y="0" font-size="11.2" text-anchor="middle" fill="#595959" textLength="94.2" lengthAdjust="spacingAndGlyphs">Normalized values</text>
<text x="497.2" y="421.5" font-size="13" text-anchor="start" fill="#595959" textLength="89.2" lengthAdjust="spacingAndGlyphs">L4-L5 disc - ε2</text>
<text x="467.7" y="581.3" font-size="11" text-anchor="start" fill="#595959" textLength="35.9" lengthAdjust="spacingAndGlyphs">Flexion</text>
<text x="530.3" y="581.3" font-size="11" text-anchor="start" fill="#595959" textLength="49.7" lengthAdjust="spacingAndGlyphs">Extension</text>
<text x="612.2" y="575.9" font-size="11" text-anchor="start" fill="#595959" textLength="34.7" lengthAdjust="spacingAndGlyphs">Lateral</text>
<text x="609.6" y="588.7" font-size="11" text-anchor="start" fill="#595959" textLength="41.1" lengthAdjust="spacingAndGlyphs">bending</text>
<line x1="479.1" y1="509.5" x2="479.1" y2="506" stroke="#7E1F7E" stroke-width="1.6"/>
<line x1="476.1" y1="506" x2="482.1" y2="506" stroke="#7E1F7E" stroke-width="1.8"/>
<line x1="479.1" y1="526.5" x2="479.1" y2="528.1" stroke="#7E1F7E" stroke-width="1.6"/>
<line x1="476.1" y1="528.1" x2="482.1" y2="528.1" stroke="#7E1F7E" stroke-width="1.8"/>
<line x1="502.45" y1="531.2" x2="502.45" y2="522.3" stroke="#B9D9D9" stroke-width="1"/>
<line x1="499.45" y1="522.3" x2="505.45" y2="522.3" stroke="#B9D9D9" stroke-width="1"/>
<line x1="502.45" y1="546.8" x2="502.45" y2="551" stroke="#B9D9D9" stroke-width="1"/>
<line x1="499.45" y1="551" x2="505.45" y2="551" stroke="#B9D9D9" stroke-width="1"/>
<line x1="549.45" y1="462" x2="549.45" y2="447.6" stroke="#DB8BCF" stroke-width="1"/>
<line x1="546.45" y1="447.6" x2="552.45" y2="447.6" stroke="#C257AE" stroke-width="1.6"/>
<line x1="549.45" y1="545.2" x2="549.45" y2="554.5" stroke="#DB8BCF" stroke-width="1"/>
<line x1="546.45" y1="554.5" x2="552.45" y2="554.5" stroke="#C257AE" stroke-width="1.6"/>
<line x1="573.85" y1="536.3" x2="573.85" y2="540.3" stroke="#B9D9D9" stroke-width="1"/>
<line x1="570.85" y1="540.3" x2="576.85" y2="540.3" stroke="#B9D9D9" stroke-width="1"/>
<line x1="620.9" y1="483.1" x2="620.9" y2="449.4" stroke="#7E1F7E" stroke-width="1.6"/>
<line x1="617.9" y1="449.4" x2="623.9" y2="449.4" stroke="#7E1F7E" stroke-width="1.8"/>
<line x1="620.9" y1="511.1" x2="620.9" y2="529.3" stroke="#7E1F7E" stroke-width="1.6"/>
<line x1="617.9" y1="529.3" x2="623.9" y2="529.3" stroke="#7E1F7E" stroke-width="1.8"/>
<line x1="644.15" y1="511.1" x2="644.15" y2="494.3" stroke="#B9D9D9" stroke-width="1"/>
<line x1="641.15" y1="494.3" x2="647.15" y2="494.3" stroke="#B9D9D9" stroke-width="1"/>
<line x1="644.15" y1="535.2" x2="644.15" y2="539.4" stroke="#B9D9D9" stroke-width="1"/>
<line x1="641.15" y1="539.4" x2="647.15" y2="539.4" stroke="#B9D9D9" stroke-width="1"/>
<line x1="444.5" y1="511.3" x2="684" y2="511.3" stroke="#34A244" stroke-width="2.4" stroke-dasharray="2.6 2.0"/>
<rect x="468.5" y="509.9" width="21.2" height="16.2" fill="#B92E99" stroke="#8E1F82" stroke-width="0.8"/>
<line x1="468.5" y1="510.4" x2="489.7" y2="510.4" stroke="#86167A" stroke-width="1.1" stroke-opacity="0.8"/>
<line x1="468.1" y1="516.9" x2="490.1" y2="516.9" stroke="#6E2A8A" stroke-width="1.3"/>
<path d="M476.1 514.4l5 5M481.1 514.4l-5 5" stroke="#7A3A9A" stroke-width="0.9" fill="none"/>
<rect x="491.8" y="531.5" width="21.3" height="15" fill="url(#fixp)" stroke="#3C8C8C" stroke-width="0.6" stroke-opacity="0.7"/>
<rect x="538.6" y="462.4" width="21.7" height="82.4" fill="#B92E99" stroke="#8E1F82" stroke-width="0.8"/>
<line x1="538.6" y1="462.9" x2="560.3" y2="462.9" stroke="#86167A" stroke-width="1.1" stroke-opacity="0.8"/>
<line x1="538.2" y1="511.1" x2="560.7" y2="511.1" stroke="#6E2A8A" stroke-width="1.3"/>
<path d="M546.9 504.2l5 5M551.9 504.2l-5 5" stroke="#7A3A9A" stroke-width="0.9" fill="none"/>
<rect x="563.4" y="481.3" width="20.9" height="54.7" fill="url(#fixp)" stroke="#3C8C8C" stroke-width="0.6" stroke-opacity="0.7"/>
<rect x="610.2" y="483.5" width="21.4" height="27.2" fill="#B92E99" stroke="#8E1F82" stroke-width="0.8"/>
<line x1="610.2" y1="484" x2="631.6" y2="484" stroke="#86167A" stroke-width="1.1" stroke-opacity="0.8"/>
<line x1="609.8" y1="499" x2="632" y2="499" stroke="#6E2A8A" stroke-width="1.3"/>
<path d="M618.3 494.1l5 5M623.3 494.1l-5 5" stroke="#7A3A9A" stroke-width="0.9" fill="none"/>
<rect x="633.5" y="511.4" width="21.3" height="23.5" fill="url(#fixp)" stroke="#3C8C8C" stroke-width="0.6" stroke-opacity="0.7"/>
<path d="M477.2 476.8V470.2H502V476.8" fill="none" stroke="#4A4A4A" stroke-width="1.6" stroke-linejoin="round"/>
<path d="M490.1 463V468M487.85 464.25L492.35 466.75M487.85 466.75L492.35 464.25" stroke="#151515" stroke-width="1.25" stroke-linecap="round" fill="none"/>
<path d="M501.3 492.5V497.5M499.05 493.75L503.55 496.25M499.05 496.25L503.55 493.75" stroke="#151515" stroke-width="1.25" stroke-linecap="round" fill="none"/>
<line x1="139.1" y1="768.5" x2="370.7" y2="768.5" stroke="#DEDEDE" stroke-width="1"/>
<text x="134.2" y="771.9" font-size="11" text-anchor="end" fill="#595959" textLength="15.4" lengthAdjust="spacingAndGlyphs">0.0</text>
<line x1="139.1" y1="752.5" x2="370.7" y2="752.5" stroke="#DEDEDE" stroke-width="1"/>
<text x="134.2" y="756.12" font-size="11" text-anchor="end" fill="#595959" textLength="15.4" lengthAdjust="spacingAndGlyphs">0.2</text>
<line x1="139.1" y1="736.5" x2="370.7" y2="736.5" stroke="#DEDEDE" stroke-width="1"/>
<text x="134.2" y="740.35" font-size="11" text-anchor="end" fill="#595959" textLength="15.4" lengthAdjust="spacingAndGlyphs">0.4</text>
<line x1="139.1" y1="721.5" x2="370.7" y2="721.5" stroke="#DEDEDE" stroke-width="1"/>
<text x="134.2" y="724.58" font-size="11" text-anchor="end" fill="#595959" textLength="15.4" lengthAdjust="spacingAndGlyphs">0.6</text>
<line x1="139.1" y1="705.5" x2="370.7" y2="705.5" stroke="#DEDEDE" stroke-width="1"/>
<text x="134.2" y="708.8" font-size="11" text-anchor="end" fill="#595959" textLength="15.4" lengthAdjust="spacingAndGlyphs">0.8</text>
<line x1="139.1" y1="689.5" x2="370.7" y2="689.5" stroke="#DEDEDE" stroke-width="1"/>
<text x="134.2" y="693.02" font-size="11" text-anchor="end" fill="#595959" textLength="15.4" lengthAdjust="spacingAndGlyphs">1.0</text>
<line x1="139.1" y1="673.5" x2="370.7" y2="673.5" stroke="#DEDEDE" stroke-width="1"/>
<text x="134.2" y="677.25" font-size="11" text-anchor="end" fill="#595959" textLength="15.4" lengthAdjust="spacingAndGlyphs">1.2</text>
<line x1="139.1" y1="657.5" x2="370.7" y2="657.5" stroke="#DEDEDE" stroke-width="1"/>
<text x="134.2" y="661.48" font-size="11" text-anchor="end" fill="#595959" textLength="15.4" lengthAdjust="spacingAndGlyphs">1.4</text>
<line x1="139.1" y1="642.5" x2="370.7" y2="642.5" stroke="#DEDEDE" stroke-width="1"/>
<text x="134.2" y="645.7" font-size="11" text-anchor="end" fill="#595959" textLength="15.4" lengthAdjust="spacingAndGlyphs">1.6</text>
<text transform="translate(110 704.6) rotate(-90)" x="0" y="0" font-size="11.2" text-anchor="middle" fill="#595959" textLength="94.2" lengthAdjust="spacingAndGlyphs">Normalized values</text>
<text x="189.5" y="626.9" font-size="13" text-anchor="start" fill="#595959" textLength="90.2" lengthAdjust="spacingAndGlyphs">L5-S1 disc - ε1</text>
<text x="160.9" y="785.7" font-size="11" text-anchor="start" fill="#595959" textLength="36.3" lengthAdjust="spacingAndGlyphs">Flexion</text>
<text x="224.1" y="785.7" font-size="11" text-anchor="start" fill="#595959" textLength="49.2" lengthAdjust="spacingAndGlyphs">Extension</text>
<text x="306" y="780.9" font-size="11" text-anchor="start" fill="#595959" textLength="35.3" lengthAdjust="spacingAndGlyphs">Lateral</text>
<text x="302.8" y="792.1" font-size="11" text-anchor="start" fill="#595959" textLength="41.8" lengthAdjust="spacingAndGlyphs">bending</text>
<line x1="172.9" y1="691.9" x2="172.9" y2="669" stroke="#DB8BCF" stroke-width="1"/>
<line x1="169.9" y1="669" x2="175.9" y2="669" stroke="#C257AE" stroke-width="1.6"/>
<line x1="172.9" y1="714.6" x2="172.9" y2="721.1" stroke="#DB8BCF" stroke-width="1"/>
<line x1="169.9" y1="721.1" x2="175.9" y2="721.1" stroke="#C257AE" stroke-width="1.6"/>
<line x1="242.55" y1="679.4" x2="242.55" y2="673.7" stroke="#7E1F7E" stroke-width="1.6"/>
<line x1="239.55" y1="673.7" x2="245.55" y2="673.7" stroke="#7E1F7E" stroke-width="1.8"/>
<line x1="242.55" y1="713" x2="242.55" y2="715.3" stroke="#7E1F7E" stroke-width="1.6"/>
<line x1="239.55" y1="715.3" x2="245.55" y2="715.3" stroke="#7E1F7E" stroke-width="1.8"/>
<line x1="265.75" y1="731.7" x2="265.75" y2="734.7" stroke="#B9D9D9" stroke-width="1"/>
<line x1="262.75" y1="734.7" x2="268.75" y2="734.7" stroke="#B9D9D9" stroke-width="1"/>
<line x1="312.5" y1="686.6" x2="312.5" y2="671.4" stroke="#DB8BCF" stroke-width="1"/>
<line x1="309.5" y1="671.4" x2="315.5" y2="671.4" stroke="#C257AE" stroke-width="1.6"/>
<line x1="312.5" y1="698.2" x2="312.5" y2="702.5" stroke="#7E1F7E" stroke-width="1.6"/>
<line x1="309.5" y1="702.5" x2="315.5" y2="702.5" stroke="#7E1F7E" stroke-width="1.8"/>
<line x1="336.2" y1="705.5" x2="336.2" y2="703.6" stroke="#B9D9D9" stroke-width="1"/>
<line x1="333.2" y1="703.6" x2="339.2" y2="703.6" stroke="#B9D9D9" stroke-width="1"/>
<line x1="336.2" y1="722.3" x2="336.2" y2="725.1" stroke="#B9D9D9" stroke-width="1"/>
<line x1="333.2" y1="725.1" x2="339.2" y2="725.1" stroke="#B9D9D9" stroke-width="1"/>
<line x1="139.1" y1="689.6" x2="378" y2="689.6" stroke="#34A244" stroke-width="2.4" stroke-dasharray="2.6 2.0"/>
<rect x="162.1" y="692.3" width="21.6" height="21.9" fill="#B92E99" stroke="#8E1F82" stroke-width="0.8"/>
<line x1="162.1" y1="692.8" x2="183.7" y2="692.8" stroke="#86167A" stroke-width="1.1" stroke-opacity="0.8"/>
<line x1="161.7" y1="704.8" x2="184.1" y2="704.8" stroke="#6E2A8A" stroke-width="1.3"/>
<path d="M170.4 699.5l5 5M175.4 699.5l-5 5" stroke="#7A3A9A" stroke-width="0.9" fill="none"/>
<rect x="185.6" y="697.4" width="21.4" height="16.9" fill="url(#fixp)" stroke="#3C8C8C" stroke-width="0.6" stroke-opacity="0.7"/>
<rect x="232.1" y="679.8" width="20.9" height="32.8" fill="#B92E99" stroke="#8E1F82" stroke-width="0.8"/>
<line x1="232.1" y1="680.3" x2="253" y2="680.3" stroke="#86167A" stroke-width="1.1" stroke-opacity="0.8"/>
<line x1="231.7" y1="685.6" x2="253.4" y2="685.6" stroke="#6E2A8A" stroke-width="1.3"/>
<path d="M240.3 691.3l5 5M245.3 691.3l-5 5" stroke="#7A3A9A" stroke-width="0.9" fill="none"/>
<rect x="255.3" y="695.7" width="20.9" height="35.7" fill="url(#fixp)" stroke="#3C8C8C" stroke-width="0.6" stroke-opacity="0.7"/>
<rect x="302.2" y="687" width="20.6" height="10.8" fill="#B92E99" stroke="#8E1F82" stroke-width="0.8"/>
<line x1="302.2" y1="687.5" x2="322.8" y2="687.5" stroke="#86167A" stroke-width="1.1" stroke-opacity="0.8"/>
<line x1="301.8" y1="693.6" x2="323.2" y2="693.6" stroke="#6E2A8A" stroke-width="1.3"/>
<path d="M310.2 688.7l5 5M315.2 688.7l-5 5" stroke="#7A3A9A" stroke-width="0.9" fill="none"/>
<rect x="325.9" y="705.8" width="20.6" height="16.2" fill="url(#fixp)" stroke="#3C8C8C" stroke-width="0.6" stroke-opacity="0.7"/>
<path d="M195.1 673.8V678.8M192.85 675.05L197.35 677.55M192.85 677.55L197.35 675.05" stroke="#151515" stroke-width="1.25" stroke-linecap="round" fill="none"/>
<line x1="444.5" y1="768.5" x2="675.7" y2="768.5" stroke="#DEDEDE" stroke-width="1"/>
<text x="439.2" y="771.9" font-size="11" text-anchor="end" fill="#595959" textLength="15.4" lengthAdjust="spacingAndGlyphs">0.0</text>
<line x1="444.5" y1="752.5" x2="675.7" y2="752.5" stroke="#DEDEDE" stroke-width="1"/>
<text x="439.2" y="756.12" font-size="11" text-anchor="end" fill="#595959" textLength="15.4" lengthAdjust="spacingAndGlyphs">0.2</text>
<line x1="444.5" y1="736.5" x2="675.7" y2="736.5" stroke="#DEDEDE" stroke-width="1"/>
<text x="439.2" y="740.35" font-size="11" text-anchor="end" fill="#595959" textLength="15.4" lengthAdjust="spacingAndGlyphs">0.4</text>
<line x1="444.5" y1="721.5" x2="675.7" y2="721.5" stroke="#DEDEDE" stroke-width="1"/>
<text x="439.2" y="724.58" font-size="11" text-anchor="end" fill="#595959" textLength="15.4" lengthAdjust="spacingAndGlyphs">0.6</text>
<line x1="444.5" y1="705.5" x2="675.7" y2="705.5" stroke="#DEDEDE" stroke-width="1"/>
<text x="439.2" y="708.8" font-size="11" text-anchor="end" fill="#595959" textLength="15.4" lengthAdjust="spacingAndGlyphs">0.8</text>
<line x1="444.5" y1="689.5" x2="675.7" y2="689.5" stroke="#DEDEDE" stroke-width="1"/>
<text x="439.2" y="693.02" font-size="11" text-anchor="end" fill="#595959" textLength="15.4" lengthAdjust="spacingAndGlyphs">1.0</text>
<line x1="444.5" y1="673.5" x2="675.7" y2="673.5" stroke="#DEDEDE" stroke-width="1"/>
<text x="439.2" y="677.25" font-size="11" text-anchor="end" fill="#595959" textLength="15.4" lengthAdjust="spacingAndGlyphs">1.2</text>
<line x1="444.5" y1="657.5" x2="675.7" y2="657.5" stroke="#DEDEDE" stroke-width="1"/>
<text x="439.2" y="661.48" font-size="11" text-anchor="end" fill="#595959" textLength="15.4" lengthAdjust="spacingAndGlyphs">1.4</text>
<line x1="444.5" y1="642.5" x2="675.7" y2="642.5" stroke="#DEDEDE" stroke-width="1"/>
<text x="439.2" y="645.7" font-size="11" text-anchor="end" fill="#595959" textLength="15.4" lengthAdjust="spacingAndGlyphs">1.6</text>
<text transform="translate(415.5 704.6) rotate(-90)" x="0" y="0" font-size="11.2" text-anchor="middle" fill="#595959" textLength="94.2" lengthAdjust="spacingAndGlyphs">Normalized values</text>
<text x="494.5" y="626.9" font-size="13" text-anchor="start" fill="#595959" textLength="90.2" lengthAdjust="spacingAndGlyphs">L5-S1 disc - ε2</text>
<text x="466.7" y="785.7" font-size="11" text-anchor="start" fill="#595959" textLength="35.6" lengthAdjust="spacingAndGlyphs">Flexion</text>
<text x="530.3" y="785.7" font-size="11" text-anchor="start" fill="#595959" textLength="49.1" lengthAdjust="spacingAndGlyphs">Extension</text>
<text x="612.2" y="780.9" font-size="11" text-anchor="start" fill="#595959" textLength="34.3" lengthAdjust="spacingAndGlyphs">Lateral</text>
<text x="609" y="792.1" font-size="11" text-anchor="start" fill="#595959" textLength="41.7" lengthAdjust="spacingAndGlyphs">bending</text>
<line x1="477.3" y1="681.4" x2="477.3" y2="680.7" stroke="#7E1F7E" stroke-width="1.6"/>
<line x1="474.3" y1="680.7" x2="480.3" y2="680.7" stroke="#7E1F7E" stroke-width="1.8"/>
<line x1="477.3" y1="703.2" x2="477.3" y2="703.6" stroke="#7E1F7E" stroke-width="1.6"/>
<line x1="474.3" y1="703.6" x2="480.3" y2="703.6" stroke="#7E1F7E" stroke-width="1.8"/>
<line x1="501.55" y1="681.4" x2="501.55" y2="671.4" stroke="#B9D9D9" stroke-width="1"/>
<line x1="498.55" y1="671.4" x2="504.55" y2="671.4" stroke="#B9D9D9" stroke-width="1"/>
<line x1="501.55" y1="739.1" x2="501.55" y2="748.7" stroke="#B9D9D9" stroke-width="1"/>
<line x1="498.55" y1="748.7" x2="504.55" y2="748.7" stroke="#B9D9D9" stroke-width="1"/>
<line x1="547.85" y1="714.8" x2="547.85" y2="709.5" stroke="#7E1F7E" stroke-width="1.6"/>
<line x1="544.85" y1="709.5" x2="550.85" y2="709.5" stroke="#7E1F7E" stroke-width="1.8"/>
<line x1="547.85" y1="744.5" x2="547.85" y2="746.4" stroke="#7E1F7E" stroke-width="1.6"/>
<line x1="544.85" y1="746.4" x2="550.85" y2="746.4" stroke="#7E1F7E" stroke-width="1.8"/>
<line x1="571.25" y1="688.4" x2="571.25" y2="684.5" stroke="#B9D9D9" stroke-width="1"/>
<line x1="568.25" y1="684.5" x2="574.25" y2="684.5" stroke="#B9D9D9" stroke-width="1"/>
<line x1="617.65" y1="674.4" x2="617.65" y2="654.1" stroke="#DB8BCF" stroke-width="1"/>
<line x1="614.65" y1="654.1" x2="620.65" y2="654.1" stroke="#7E1F7E" stroke-width="1.6"/>
<line x1="617.65" y1="707.1" x2="617.65" y2="710.2" stroke="#DB8BCF" stroke-width="1"/>
<line x1="614.65" y1="710.2" x2="620.65" y2="710.2" stroke="#C257AE" stroke-width="1.6"/>
<line x1="641.1" y1="703.6" x2="641.1" y2="699.4" stroke="#B9D9D9" stroke-width="1"/>
<line x1="638.1" y1="699.4" x2="644.1" y2="699.4" stroke="#B9D9D9" stroke-width="1"/>
<line x1="641.1" y1="724.2" x2="641.1" y2="734.7" stroke="#3F8F8F" stroke-width="1.2"/>
<line x1="638.1" y1="734.7" x2="644.1" y2="734.7" stroke="#3F8F8F" stroke-width="1.2"/>
<line x1="444.5" y1="689.6" x2="684" y2="689.6" stroke="#34A244" stroke-width="2.4" stroke-dasharray="2.6 2.0"/>
<rect x="466.6" y="681.8" width="21.4" height="21" fill="#B92E99" stroke="#8E1F82" stroke-width="0.8"/>
<line x1="466.6" y1="682.3" x2="488" y2="682.3" stroke="#86167A" stroke-width="1.1" stroke-opacity="0.8"/>
<line x1="466.2" y1="693.1" x2="488.4" y2="693.1" stroke="#6E2A8A" stroke-width="1.3"/>
<path d="M475.9 690.1l5 5M480.9 690.1l-5 5" stroke="#7A3A9A" stroke-width="0.9" fill="none"/>
<rect x="491.1" y="681.7" width="20.9" height="57.1" fill="url(#fixp)" stroke="#3C8C8C" stroke-width="0.6" stroke-opacity="0.7"/>
<rect x="537.7" y="715.2" width="20.3" height="28.9" fill="#B92E99" stroke="#8E1F82" stroke-width="0.8"/>
<line x1="537.7" y1="715.7" x2="558" y2="715.7" stroke="#86167A" stroke-width="1.1" stroke-opacity="0.8"/>
<line x1="537.3" y1="723" x2="558.4" y2="723" stroke="#6E2A8A" stroke-width="1.3"/>
<path d="M545.3 726.1l5 5M550.3 726.1l-5 5" stroke="#7A3A9A" stroke-width="0.9" fill="none"/>
<rect x="561" y="688.7" width="20.5" height="36.3" fill="url(#fixp)" stroke="#3C8C8C" stroke-width="0.6" stroke-opacity="0.7"/>
<rect x="607.2" y="674.8" width="20.9" height="31.9" fill="#B92E99" stroke="#8E1F82" stroke-width="0.8"/>
<line x1="607.2" y1="675.3" x2="628.1" y2="675.3" stroke="#86167A" stroke-width="1.1" stroke-opacity="0.8"/>
<line x1="606.8" y1="691.2" x2="628.5" y2="691.2" stroke="#6E2A8A" stroke-width="1.3"/>
<path d="M614.8 687.1l5 5M619.8 687.1l-5 5" stroke="#7A3A9A" stroke-width="0.9" fill="none"/>
<rect x="630.9" y="703.9" width="20.4" height="20" fill="url(#fixp)" stroke="#3C8C8C" stroke-width="0.6" stroke-opacity="0.7"/>
<path d="M476.8 649.2V642.9H501.8V649.2" fill="none" stroke="#4A4A4A" stroke-width="1.6" stroke-linejoin="round"/>
<path d="M489.6 635.7V640.7M487.35 636.95L491.85 639.45M487.35 639.45L491.85 636.95" stroke="#151515" stroke-width="1.25" stroke-linecap="round" fill="none"/>
<path d="M501.3 657.9V662.9M499.05 659.15L503.55 661.65M499.05 661.65L503.55 659.15" stroke="#151515" stroke-width="1.25" stroke-linecap="round" fill="none"/>
<rect x="295.6" y="822.5" width="11.4" height="11.4" fill="#B92E99" stroke="#7E2080" stroke-width="0.9"/>
<text x="310.4" y="834" font-size="12.5" text-anchor="start" fill="#595959" textLength="77.1" lengthAdjust="spacingAndGlyphs">Laminectomy</text>
<rect x="403.6" y="822.5" width="11.8" height="11.4" fill="url(#fixp)" stroke="#2E7F7F" stroke-width="1"/>
<text x="418.1" y="834" font-size="12.5" text-anchor="start" fill="#595959" textLength="44.9" lengthAdjust="spacingAndGlyphs">Fixation</text>
</svg></body></html>
